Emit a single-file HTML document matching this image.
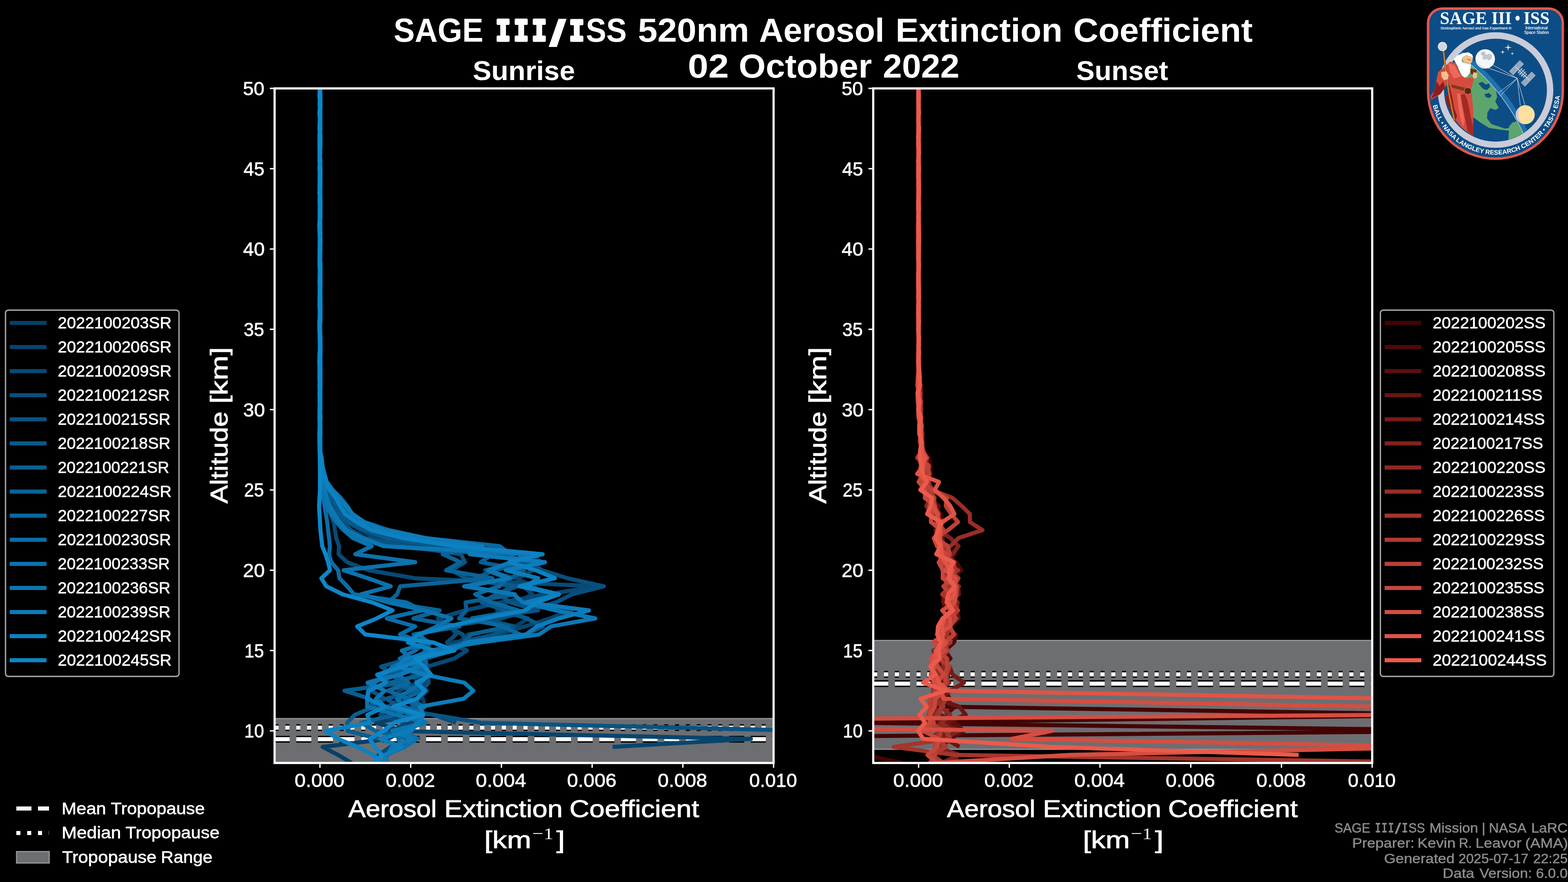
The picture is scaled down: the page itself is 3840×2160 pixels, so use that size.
<!DOCTYPE html>
<html lang="en"><head><meta charset="utf-8"><title>SAGE III/ISS 520nm Aerosol Extinction Coefficient</title>
<style>html,body{margin:0;padding:0;background:#000;overflow:hidden}svg{display:block}text{white-space:pre}</style></head>
<body>
<svg width="3840" height="2160" viewBox="0 0 3840 2160">
<rect width="3840" height="2160" fill="#000"/>
<clipPath id="clip0"><rect x="672.5" y="216.5" width="1222" height="1652"/></clipPath>
<clipPath id="clip1"><rect x="2138.5" y="216.5" width="1222" height="1652"/></clipPath>
<g clip-path="url(#clip0)">
<rect x="652.5" y="1759.74" width="1262" height="148.09" fill="#6d6e72" stroke="#9a9b9d" stroke-width="2.6"/>
<path d="M672.5 1810.29H1894.5" stroke="#000" stroke-width="16.67" stroke-dasharray="37 16" fill="none"/>
<path d="M672.5 1810.29H1894.5" stroke="#fff" stroke-width="10" stroke-dasharray="37 16" fill="none"/>
<path d="M672.5 1781.97H1894.5" stroke="#000" stroke-width="16.67" stroke-dasharray="10 16.5" fill="none"/>
<path d="M672.5 1781.97H1894.5" stroke="#fff" stroke-width="10" stroke-dasharray="10 16.5" fill="none"/>
<g fill="none" stroke-width="10" stroke-linejoin="round" stroke-linecap="butt">
<path d="M782.65 216.5L783.47 236.17L784.31 255.83L784.14 275.5L784.21 295.17L783.41 314.83L784.39 334.5L783.68 354.17L782.47 373.83L783.47 393.5L782.39 413.17L784.75 432.83L784.78 452.5L783.15 472.17L783.08 491.83L784.31 511.5L782.8 531.17L782.73 550.83L782.76 570.5L783.18 590.17L783.93 609.83L784.83 629.5L782.82 649.17L784.81 668.83L783.74 688.5L784.66 708.17L784.44 727.83L782.69 747.5L783.99 767.17L782.59 786.83L782.27 806.5L783.31 826.17L784.32 845.83L783.77 865.5L782.77 885.17L784.5 904.83L784.69 924.5L782.89 944.17L783.45 963.83L783.96 983.5L784.66 1003.17L782.6 1022.83L783.73 1042.5L784.84 1062.17L783.88 1081.83L784.17 1101.5L785.86 1121.17L787.17 1140.83L790.48 1160.5L795.72 1180.17L805.33 1199.83L816.12 1219.5L827.28 1239.17L841.48 1258.83L866.05 1278.5L896.28 1298.17L972.22 1317.83L1063.8 1337.5L1227.72 1357.17L1285.22 1376.83L1187.17 1396.5L1263.5 1416.17L1306.61 1435.83L1331.51 1455.5L1240.44 1475.17L1217.37 1494.83L1293.41 1514.5L1262.69 1534.17L1146 1553.83L1124.95 1573.5L1057.85 1593.17L1041.41 1612.83L1041.96 1632.5L1010.25 1652.17L1041.98 1671.83L1018.39 1691.5L1035.38 1711.17L1041.12 1730.83L1018.75 1750.5L920.78 1770.17L986.69 1789.83L950.23 1809.5L790.26 1829.17L828.03 1848.83L861.35 1868.5" stroke="#064068"/>
<path d="M783.81 216.5L782.78 236.17L784.83 255.83L784.72 275.5L783.5 295.17L784.03 314.83L782.83 334.5L782.85 354.17L783.03 373.83L784.1 393.5L782.82 413.17L784.85 432.83L782.45 452.5L782.77 472.17L782.49 491.83L784.31 511.5L783.24 531.17L783.52 550.83L783.13 570.5L783.96 590.17L783.33 609.83L782.81 629.5L783.4 649.17L783.07 668.83L782.55 688.5L784.45 708.17L784.07 727.83L784.03 747.5L784.61 767.17L783.31 786.83L783.27 806.5L783.39 826.17L783.34 845.83L784.04 865.5L782.28 885.17L783.5 904.83L783.68 924.5L783.18 944.17L782.32 963.83L784.14 983.5L782.28 1003.17L783.76 1022.83L782.67 1042.5L782.35 1062.17L782.74 1081.83L782.43 1101.5L784.94 1121.17L786.44 1140.83L789.07 1160.5L793.24 1180.17L801.12 1199.83L810.49 1219.5L819.83 1239.17L829.1 1258.83L851.48 1278.5L883.14 1298.17L920.35 1317.83L1037.01 1337.5L1299.08 1357.17L1326.06 1376.83L1304.75 1396.5L1268.04 1416.17L1281.95 1435.83L1303.83 1455.5L1266.81 1475.17L1400.38 1494.83L1347.18 1514.5L1285.12 1534.17L1219.78 1553.83L1110.24 1573.5L1094.54 1593.17L1041.14 1612.83L1047.21 1632.5L1012.53 1652.17L1021.92 1671.83L1045.99 1691.5L1026 1711.17L1007.2 1730.83L1033.55 1750.5L1005.77 1770.17L954.67 1789.83L1838.95 1809.5L1500.13 1829.17" stroke="#07456f"/>
<path d="M782.65 216.5L783.9 236.17L782.71 255.83L784.16 275.5L783.88 295.17L783.28 314.83L783.9 334.5L783.77 354.17L782.37 373.83L783.67 393.5L783.91 413.17L783.64 432.83L784.6 452.5L784.22 472.17L783.26 491.83L782.86 511.5L782.6 531.17L784.42 550.83L784.1 570.5L783.88 590.17L783.44 609.83L783.59 629.5L782.85 649.17L783.67 668.83L782.65 688.5L783.91 708.17L783.94 727.83L784.04 747.5L782.91 767.17L782.5 786.83L783.15 806.5L784.09 826.17L783.62 845.83L784.25 865.5L783.41 885.17L783.32 904.83L784.68 924.5L782.7 944.17L782.81 963.83L783.83 983.5L783.94 1003.17L783.41 1022.83L783.75 1042.5L783.43 1062.17L784.04 1081.83L784.63 1101.5L783.59 1121.17L784.7 1140.83L785.81 1160.5L788.03 1180.17L792.48 1199.83L796.92 1219.5L803.59 1239.17L810.25 1258.83L816.92 1278.5L820.25 1298.17L823.58 1317.83L830.25 1337.5L829.14 1357.17L850.25 1376.83L902.46 1396.5L1016.88 1416.17L1466.8 1435.83L1339.05 1455.5L1227.95 1475.17L1139.08 1494.83L1072.43 1514.5L1105.75 1534.17L1116.86 1553.83L1094.65 1573.5L1143.53 1593.17L1112.42 1612.83L1046.8 1632.5L1049 1652.17L1024.91 1671.83L975.17 1691.5L982.69 1711.17L951 1730.83L931.18 1750.5L988.53 1770.17L979.85 1789.83L1023.77 1809.5L956.39 1829.17L926.96 1848.83L923.34 1868.5" stroke="#074a76"/>
<path d="M784.87 216.5L783.47 236.17L784.17 255.83L784.22 275.5L782.83 295.17L782.47 314.83L783.86 334.5L782.58 354.17L783.28 373.83L784.63 393.5L784.58 413.17L782.57 432.83L782.48 452.5L782.85 472.17L784.47 491.83L782.32 511.5L782.86 531.17L782.54 550.83L782.6 570.5L783.65 590.17L782.75 609.83L783.35 629.5L784.21 649.17L784.19 668.83L783.36 688.5L784.35 708.17L783.78 727.83L784.46 747.5L782.92 767.17L783.24 786.83L783.81 806.5L784.78 826.17L783.91 845.83L783.52 865.5L782.93 885.17L783.01 904.83L782.83 924.5L784.89 944.17L784.62 963.83L784.64 983.5L783.67 1003.17L784.15 1022.83L783.05 1042.5L783.54 1062.17L782.65 1081.83L783.38 1101.5L786.82 1121.17L788.56 1140.83L792.01 1160.5L797.66 1180.17L808.9 1199.83L823.55 1219.5L838.75 1239.17L849.2 1258.83L877.11 1278.5L921.19 1298.17L988.65 1317.83L1150.19 1337.5L1227.95 1357.17L1294.61 1376.83L1327.94 1396.5L1390.15 1416.17L1479.02 1435.83L1401.26 1455.5L1361.26 1475.17L1294.61 1494.83L1227.95 1514.5L1095.84 1534.17L1133.3 1553.83L1142.13 1573.5L1096.7 1593.17L1036.29 1612.83L1013.11 1632.5L1047.68 1652.17L1049.79 1671.83L1032.32 1691.5L1024.08 1711.17L946.23 1730.83L1061.32 1750.5L1116.86 1770.17" stroke="#084f7d"/>
<path d="M784.82 216.5L784.58 236.17L784.21 255.83L782.86 275.5L783.14 295.17L784.16 314.83L784.41 334.5L782.3 354.17L782.7 373.83L784.65 393.5L782.57 413.17L784.01 432.83L783.14 452.5L783.98 472.17L784.56 491.83L783.81 511.5L783.3 531.17L783.12 550.83L783.91 570.5L783.93 590.17L783.35 609.83L783.5 629.5L783.69 649.17L782.95 668.83L782.74 688.5L783.77 708.17L782.53 727.83L783.85 747.5L784.4 767.17L784.47 786.83L782.93 806.5L783.36 826.17L784.72 845.83L783.19 865.5L784.9 885.17L782.79 904.83L784.5 924.5L782.37 944.17L784.04 963.83L784.41 983.5L783.72 1003.17L783.94 1022.83L784.69 1042.5L784.91 1062.17L782.74 1081.83L783.65 1101.5L784.42 1121.17L785.33 1140.83L787.9 1160.5L792.14 1180.17L798.43 1199.83L804.36 1219.5L811.43 1239.17L823.36 1258.83L840.41 1278.5L858.97 1298.17L895.67 1317.83L993.18 1337.5L1128.8 1357.17L1138.63 1376.83L1105.67 1396.5L1141.91 1416.17L1251.91 1435.83L1221.76 1455.5L1250.15 1475.17L1317.53 1494.83L1178.87 1514.5L1259.06 1534.17L1209.1 1553.83L1134.6 1573.5L1111.43 1593.17L1003.34 1612.83L933.42 1632.5L962.62 1652.17L899.93 1671.83L909.37 1691.5L942.27 1711.17L902.58 1730.83L1061.32 1750.5L1177.96 1770.17L1983.37 1789.83" stroke="#085483"/>
<path d="M784.6 216.5L783.19 236.17L784.37 255.83L784.79 275.5L783.09 295.17L784.31 314.83L783.15 334.5L782.69 354.17L783.19 373.83L784.26 393.5L782.65 413.17L784.02 432.83L783.19 452.5L782.71 472.17L783.4 491.83L783.29 511.5L783.49 531.17L784.61 550.83L784.71 570.5L782.86 590.17L784.89 609.83L783.89 629.5L784.82 649.17L784.44 668.83L783.66 688.5L782.93 708.17L784.74 727.83L784.92 747.5L783.92 767.17L782.57 786.83L784.45 806.5L784.3 826.17L784.6 845.83L784.86 865.5L784.86 885.17L784.22 904.83L783.3 924.5L783.68 944.17L783.6 963.83L784.29 983.5L783.93 1003.17L784.46 1022.83L783.63 1042.5L783.83 1062.17L784.83 1081.83L784.37 1101.5L785.32 1121.17L787.26 1140.83L790.11 1160.5L794.42 1180.17L803.74 1199.83L813.75 1219.5L824.12 1239.17L834.82 1258.83L854.31 1278.5L893.94 1298.17L947.65 1317.83L1065.16 1337.5L1226.45 1357.17L1287.54 1376.83L1212.13 1396.5L1162.08 1416.17L1266.24 1435.83L1215.81 1455.5L1179.15 1475.17L1236.13 1494.83L1288.82 1514.5L1329.68 1534.17L1286.98 1553.83L1139.43 1573.5L1103.45 1593.17L999.61 1612.83L989.14 1632.5L928.29 1652.17L952.89 1671.83L1014.98 1691.5L946.38 1711.17L976.48 1730.83L1005.64 1750.5L963.07 1770.17" stroke="#09598a"/>
<path d="M784.15 216.5L784.66 236.17L782.3 255.83L784.77 275.5L784.45 295.17L782.41 314.83L784.41 334.5L784.4 354.17L782.76 373.83L784.85 393.5L783.23 413.17L783.46 432.83L784 452.5L784.1 472.17L784.25 491.83L783 511.5L783.55 531.17L782.62 550.83L782.99 570.5L783.57 590.17L782.46 609.83L783.19 629.5L784.43 649.17L782.73 668.83L783.41 688.5L782.36 708.17L784.22 727.83L782.52 747.5L782.74 767.17L784.24 786.83L783.44 806.5L783.73 826.17L783.88 845.83L783.58 865.5L783.39 885.17L782.67 904.83L782.64 924.5L782.8 944.17L782.91 963.83L783.11 983.5L784.64 1003.17L782.83 1022.83L782.61 1042.5L782.97 1062.17L782.61 1081.83L784.47 1101.5L783.42 1121.17L784.76 1140.83L786.55 1160.5L790.47 1180.17L794.14 1199.83L799 1219.5L808.21 1239.17L819.65 1258.83L831.08 1278.5L842.98 1298.17L885.73 1317.83L947.68 1337.5L1207.32 1357.17L1177.32 1376.83L1283.57 1396.5L1251.31 1416.17L1142.53 1435.83L1261.75 1455.5L1140.02 1475.17L1142.46 1494.83L1124.02 1514.5L1245.79 1534.17L1153.03 1553.83L1136.06 1573.5L1075.29 1593.17L1037.52 1612.83L1019.13 1632.5L956.82 1652.17L990.42 1671.83L843.58 1691.5L906.15 1711.17L915.95 1730.83L869.13 1750.5L850.25 1770.17L851.66 1789.83L927.31 1809.5" stroke="#095e91"/>
<path d="M782.91 216.5L783.81 236.17L784.85 255.83L784.01 275.5L783.54 295.17L783.08 314.83L782.63 334.5L784.92 354.17L784.27 373.83L782.92 393.5L783.84 413.17L784.15 432.83L784.68 452.5L783.01 472.17L783.09 491.83L782.76 511.5L783.83 531.17L784.72 550.83L784.22 570.5L782.63 590.17L783.25 609.83L782.46 629.5L782.69 649.17L783.57 668.83L782.67 688.5L782.98 708.17L782.91 727.83L783.38 747.5L784.54 767.17L782.89 786.83L783.89 806.5L783.32 826.17L783.04 845.83L783.05 865.5L784.33 885.17L784.5 904.83L784.21 924.5L784.63 944.17L784.2 963.83L783.05 983.5L782.88 1003.17L783.77 1022.83L783.88 1042.5L784.35 1062.17L784.67 1081.83L784.38 1101.5L787.36 1121.17L789.02 1140.83L792.89 1160.5L799.55 1180.17L811.39 1199.83L826.68 1219.5L841.01 1239.17L857.11 1258.83L879.52 1278.5L934.1 1298.17L1006.84 1317.83L1160.88 1337.5L1084.16 1357.17L1127.97 1376.83L1092.42 1396.5L1205.74 1416.17L980.22 1435.83L972.45 1455.5L950.23 1475.17L1076.87 1494.83L1012.44 1514.5L1125.34 1534.17L1012.82 1553.83L1054.29 1573.5L1040.31 1593.17L1034.21 1612.83L1015.84 1632.5L1034.11 1652.17L956.94 1671.83L1032.82 1691.5L991.32 1711.17L1021.72 1730.83L967.01 1750.5L884.37 1770.17L919.58 1789.83L1000.28 1809.5L974.14 1829.17" stroke="#0a6398"/>
<path d="M782.61 216.5L784.43 236.17L784.61 255.83L783.28 275.5L783 295.17L782.78 314.83L782.47 334.5L782.83 354.17L782.8 373.83L784.53 393.5L782.77 413.17L782.76 432.83L784.73 452.5L784.7 472.17L782.53 491.83L783.12 511.5L784.89 531.17L783.3 550.83L783.93 570.5L784.1 590.17L783.98 609.83L782.41 629.5L784.19 649.17L784.43 668.83L783.45 688.5L783.18 708.17L784.18 727.83L784.9 747.5L784.77 767.17L782.8 786.83L784.28 806.5L783.56 826.17L784.89 845.83L784.85 865.5L783.55 885.17L784.66 904.83L784.62 924.5L782.56 944.17L783.34 963.83L784.78 983.5L782.88 1003.17L783.43 1022.83L783.93 1042.5L783.2 1062.17L784.35 1081.83L782.74 1101.5L786.92 1121.17L789.15 1140.83L794.7 1160.5L800.25 1180.17L814.7 1199.83L834.69 1219.5L850.25 1239.17L862.47 1258.83L892.46 1278.5L952.45 1298.17L1042.43 1317.83L1223.51 1337.5L1250.17 1357.17L1265.98 1376.83L1193.11 1396.5L1241.84 1416.17L1222.94 1435.83L1163.77 1455.5L1203.76 1475.17L1269.37 1494.83L1155.56 1514.5L1230.99 1534.17L1273.95 1553.83L1137.33 1573.5L1109.29 1593.17L1041.52 1612.83L1043.25 1632.5L974.38 1652.17L1000.87 1671.83L950.19 1691.5L997.69 1711.17L1039.69 1730.83L1007.29 1750.5" stroke="#0b689f"/>
<path d="M783 216.5L783.48 236.17L783.72 255.83L782.53 275.5L783.6 295.17L784.81 314.83L783.76 334.5L783.64 354.17L784.36 373.83L783.46 393.5L782.99 413.17L784.49 432.83L782.7 452.5L784.63 472.17L784.61 491.83L783.72 511.5L783.63 531.17L782.43 550.83L782.72 570.5L784.32 590.17L784.2 609.83L783.92 629.5L782.62 649.17L784.19 668.83L784.9 688.5L784.58 708.17L784.03 727.83L783.45 747.5L783.39 767.17L782.67 786.83L782.37 806.5L784.84 826.17L783.32 845.83L783.3 865.5L783.55 885.17L784.88 904.83L784.7 924.5L784.1 944.17L784.35 963.83L783.66 983.5L783.99 1003.17L784.38 1022.83L784.03 1042.5L782.39 1062.17L783.5 1081.83L783.82 1101.5L783.59 1121.17L783.59 1140.83L784.7 1160.5L785.81 1180.17L788.03 1199.83L791.37 1219.5L794.7 1239.17L798.03 1258.83L801.37 1278.5L803.59 1298.17L805.81 1317.83L808.03 1337.5L805.81 1357.17L811.36 1376.83L828.03 1396.5L831.36 1416.17L850.25 1435.83L866.91 1455.5L994.66 1475.17L1033.55 1494.83L946.89 1514.5L1016.88 1534.17L979.24 1553.83L1039.58 1573.5L1017.01 1593.17L979.03 1612.83L1020.81 1632.5L1046.07 1652.17L1032.33 1671.83L1003.46 1691.5L972.47 1711.17L991.22 1730.83L1034.89 1750.5L1022.8 1770.17L1007.65 1789.83L975.46 1809.5L982.7 1829.17L947.85 1848.83L938.87 1868.5" stroke="#0b6da6"/>
<path d="M784.75 216.5L783.29 236.17L784.45 255.83L782.92 275.5L783.54 295.17L782.99 314.83L783.7 334.5L782.46 354.17L783.37 373.83L783.1 393.5L782.36 413.17L784.43 432.83L784.69 452.5L782.66 472.17L783.94 491.83L783.67 511.5L783.39 531.17L783.83 550.83L784.02 570.5L783 590.17L783.22 609.83L783.61 629.5L784.91 649.17L784.74 668.83L784.33 688.5L783.48 708.17L784.68 727.83L784.87 747.5L784.61 767.17L782.78 786.83L783.35 806.5L782.86 826.17L783.46 845.83L784.54 865.5L783.58 885.17L783.14 904.83L782.7 924.5L782.63 944.17L784.45 963.83L784.8 983.5L784.63 1003.17L782.27 1022.83L782.97 1042.5L782.63 1062.17L783.49 1081.83L782.8 1101.5L783.59 1121.17L784.7 1140.83L785.81 1160.5L788.03 1180.17L791.37 1199.83L794.7 1219.5L799.14 1239.17L810.25 1258.83L823.58 1278.5L841.36 1298.17L864.69 1317.83L910.23 1337.5L870.24 1357.17L1016.88 1376.83L841.36 1396.5L901.35 1416.17L956.89 1435.83L883.57 1455.5L950.23 1475.17L1039.1 1494.83L1105.75 1514.5L1069.74 1534.17L1026.04 1553.83L1048.04 1573.5L984.01 1593.17L1007 1612.83L962.22 1632.5L942.22 1652.17L917.73 1671.83L901.7 1691.5L898.95 1711.17L899.28 1730.83L970.22 1750.5L1042.99 1770.17L979.33 1789.83L1021.81 1809.5L992.12 1829.17L943.45 1848.83L947.98 1868.5" stroke="#0c72ad"/>
<path d="M784.46 216.5L782.83 236.17L784.77 255.83L783.57 275.5L783.32 295.17L783.9 314.83L782.71 334.5L782.77 354.17L783.38 373.83L782.87 393.5L784.05 413.17L783.37 432.83L783.28 452.5L783 472.17L782.85 491.83L784.17 511.5L784.66 531.17L783.19 550.83L784.4 570.5L783.09 590.17L784.29 609.83L782.89 629.5L783.77 649.17L783.34 668.83L784.58 688.5L784.29 708.17L782.55 727.83L782.52 747.5L783.48 767.17L782.83 786.83L782.89 806.5L784.79 826.17L784.77 845.83L782.3 865.5L782.32 885.17L783.93 904.83L784.78 924.5L784.63 944.17L784.11 963.83L784.23 983.5L783.55 1003.17L783.56 1022.83L784.54 1042.5L782.54 1062.17L784.08 1081.83L784.18 1101.5L783.73 1121.17L785 1140.83L787.3 1160.5L791.16 1180.17L795.53 1199.83L800.33 1219.5L807.09 1239.17L818.51 1258.83L831.33 1278.5L848.12 1298.17L887.43 1317.83L939.5 1337.5L1288.7 1357.17L1250.61 1376.83L1197.56 1396.5L1247.79 1416.17L1136.57 1435.83L1258.07 1455.5L1279.97 1475.17L1361.26 1494.83L1457.91 1514.5L1349.04 1534.17L1320.16 1553.83L1174.63 1573.5L1053.54 1593.17L1003.77 1612.83L1024.98 1632.5L980.58 1652.17L900.71 1671.83L942.27 1691.5L920.87 1711.17L943.23 1730.83L1015.92 1750.5L1041.29 1770.17L960.73 1789.83L1010.78 1809.5L959.76 1829.17L948.27 1848.83" stroke="#0c77b3"/>
<path d="M783.54 216.5L784.03 236.17L783.91 255.83L784.12 275.5L784.66 295.17L784.26 314.83L782.69 334.5L782.85 354.17L783.47 373.83L783.3 393.5L784.83 413.17L784.2 432.83L783.51 452.5L783.2 472.17L782.86 491.83L783.86 511.5L784.72 531.17L782.7 550.83L783.46 570.5L783.18 590.17L783.88 609.83L782.94 629.5L782.43 649.17L784.06 668.83L783.08 688.5L783.98 708.17L784.68 727.83L783.81 747.5L784.69 767.17L784.4 786.83L782.43 806.5L782.91 826.17L784.02 845.83L783.53 865.5L782.27 885.17L784.45 904.83L783.99 924.5L783.42 944.17L783.65 963.83L782.71 983.5L783.72 1003.17L782.64 1022.83L784.03 1042.5L784.77 1062.17L782.83 1081.83L782.97 1101.5L787.73 1121.17L790.01 1140.83L793.97 1160.5L799.93 1180.17L813.85 1199.83L830.72 1219.5L846.85 1239.17L863.46 1258.83L890.91 1278.5L939.07 1298.17L1043.12 1317.83L1180.69 1337.5L1150.54 1357.17L1334.6 1376.83L1238.87 1396.5L1318.1 1416.17L1288.75 1435.83L1367.84 1455.5L1287.7 1475.17L1442.36 1494.83L1368.34 1514.5L1315.11 1534.17L1288.12 1553.83L1145.05 1573.5L1101.25 1593.17L991.96 1612.83L974.11 1632.5L1039.1 1652.17L1136.86 1671.83L1159.08 1691.5L1135.75 1711.17L1027.99 1730.83L1037.17 1750.5L1024.49 1770.17L1004.92 1789.83L931.26 1809.5L983.86 1829.17L942.39 1848.83L942.09 1868.5" stroke="#0d7cba"/>
<path d="M782.34 216.5L784.57 236.17L784.18 255.83L782.31 275.5L783.72 295.17L782.89 314.83L784.61 334.5L784.53 354.17L783.06 373.83L783.85 393.5L783.58 413.17L783.01 432.83L783.41 452.5L783.31 472.17L783.5 491.83L784.8 511.5L784.21 531.17L782.36 550.83L783.2 570.5L784.84 590.17L784.29 609.83L783.87 629.5L783.98 649.17L784.08 668.83L782.7 688.5L783.34 708.17L783 727.83L782.77 747.5L784.1 767.17L782.35 786.83L782.73 806.5L784.15 826.17L784.64 845.83L783.07 865.5L784.53 885.17L784.48 904.83L782.67 924.5L784.7 944.17L782.71 963.83L783.52 983.5L782.48 1003.17L782.51 1022.83L784.03 1042.5L784.5 1062.17L782.56 1081.83L783.13 1101.5L786.42 1121.17L788.28 1140.83L792 1160.5L796.73 1180.17L806.97 1199.83L822.36 1219.5L832.97 1239.17L845.31 1258.83L872.67 1278.5L909.41 1298.17L988.26 1317.83L1113.61 1337.5L1329.05 1357.17L1247.14 1376.83L1312.09 1396.5L1358.95 1416.17L1271.82 1435.83L1369.04 1455.5L1315.03 1475.17L1286.13 1494.83L1185.52 1514.5L1096.81 1534.17L1024.27 1553.83L998.62 1573.5L1064.25 1593.17L1036 1612.83L986.65 1632.5L923.5 1652.17L945.32 1671.83L903.31 1691.5L899.41 1711.17L943.56 1730.83L899.79 1750.5L905.79 1770.17L796.92 1789.83L828.03 1809.5L875.29 1829.17L914.21 1848.83L934.03 1868.5" stroke="#0d81c1"/>
<path d="M782.9 216.5L782.52 236.17L784.03 255.83L782.91 275.5L783.92 295.17L782.67 314.83L784.87 334.5L784.06 354.17L783.04 373.83L782.43 393.5L784.49 413.17L784.65 432.83L783.16 452.5L782.54 472.17L784.86 491.83L784.64 511.5L783.49 531.17L782.55 550.83L784.26 570.5L784.85 590.17L783.06 609.83L783.24 629.5L784.57 649.17L784.26 668.83L784.7 688.5L783.92 708.17L782.87 727.83L784.79 747.5L784.42 767.17L784.56 786.83L783.15 806.5L783.07 826.17L784.86 845.83L784.72 865.5L782.52 885.17L782.47 904.83L782.61 924.5L784.02 944.17L782.93 963.83L782.7 983.5L783.64 1003.17L784.83 1022.83L783.54 1042.5L782.48 1062.17L782.63 1081.83L783.06 1101.5L783.59 1121.17L783.59 1140.83L783.59 1160.5L783.59 1180.17L783.59 1199.83L782.48 1219.5L781.37 1239.17L782.48 1258.83L783.59 1278.5L784.7 1298.17L786.92 1317.83L789.15 1337.5L796.92 1357.17L803.59 1376.83L808.03 1396.5L786.92 1416.17L799.14 1435.83L839.14 1455.5L911.35 1475.17L961.34 1494.83L922.45 1514.5L874.69 1534.17L894.68 1553.83L1061.32 1573.5L1112.42 1593.17L1016.88 1612.83L1039.1 1632.5L1055.93 1652.17L1019.8 1671.83L1041.04 1691.5L1020.67 1711.17L963.5 1730.83L1034.74 1750.5L964.77 1770.17L939.51 1789.83L905.51 1809.5L918.03 1829.17L935.63 1848.83L914.85 1868.5" stroke="#0e86c8"/>
</g>
</g>
<rect x="672.5" y="216.5" width="1222" height="1652" fill="none" stroke="#fff" stroke-width="5.33"/>
<path d="M783.59 1868.5v11.67M1005.77 1868.5v11.67M1227.95 1868.5v11.67M1450.14 1868.5v11.67M1672.32 1868.5v11.67M1894.5 1868.5v11.67M672.5 1789.83h-11.67M672.5 1593.17h-11.67M672.5 1396.5h-11.67M672.5 1199.83h-11.67M672.5 1003.17h-11.67M672.5 806.5h-11.67M672.5 609.83h-11.67M672.5 413.17h-11.67M672.5 216.5h-11.67" stroke="#fff" stroke-width="3.3" fill="none"/>
<text transform="translate(721.54 1926.65) scale(1.0722 1)" font-family='"Liberation Sans", sans-serif' font-size="45.49" fill="#fff" stroke="#fff" stroke-width="0.91" stroke-linejoin="round" vector-effect="non-scaling-stroke">0.000</text>
<text transform="translate(944.6 1926.65) scale(1.0611 1)" font-family='"Liberation Sans", sans-serif' font-size="45.49" fill="#fff" stroke="#fff" stroke-width="0.91" stroke-linejoin="round" vector-effect="non-scaling-stroke">0.002</text>
<text transform="translate(1164.94 1926.65) scale(1.0849 1)" font-family='"Liberation Sans", sans-serif' font-size="45.49" fill="#fff" stroke="#fff" stroke-width="0.91" stroke-linejoin="round" vector-effect="non-scaling-stroke">0.004</text>
<text transform="translate(1388.66 1926.65) scale(1.0637 1)" font-family='"Liberation Sans", sans-serif' font-size="45.49" fill="#fff" stroke="#fff" stroke-width="0.91" stroke-linejoin="round" vector-effect="non-scaling-stroke">0.006</text>
<text transform="translate(1610.84 1926.65) scale(1.0637 1)" font-family='"Liberation Sans", sans-serif' font-size="45.49" fill="#fff" stroke="#fff" stroke-width="0.91" stroke-linejoin="round" vector-effect="non-scaling-stroke">0.008</text>
<text transform="translate(1835.09 1926.65) scale(1.0259 1)" font-family='"Liberation Sans", sans-serif' font-size="45.49" fill="#fff" stroke="#fff" stroke-width="0.91" stroke-linejoin="round" vector-effect="non-scaling-stroke">0.010</text>
<text transform="translate(598.22 1806.38) scale(0.9571 1)" font-family='"Liberation Sans", sans-serif' font-size="45.49" fill="#fff" stroke="#fff" stroke-width="0.91" stroke-linejoin="round" vector-effect="non-scaling-stroke">10</text>
<text transform="translate(598.67 1609.71) scale(0.9426 1)" font-family='"Liberation Sans", sans-serif' font-size="45.49" fill="#fff" stroke="#fff" stroke-width="0.91" stroke-linejoin="round" vector-effect="non-scaling-stroke">15</text>
<text transform="translate(595.06 1413.05) scale(1.0546 1)" font-family='"Liberation Sans", sans-serif' font-size="45.49" fill="#fff" stroke="#fff" stroke-width="0.91" stroke-linejoin="round" vector-effect="non-scaling-stroke">20</text>
<text transform="translate(597.77 1216.38) scale(0.9610 1)" font-family='"Liberation Sans", sans-serif' font-size="45.49" fill="#fff" stroke="#fff" stroke-width="0.91" stroke-linejoin="round" vector-effect="non-scaling-stroke">25</text>
<text transform="translate(595.54 1019.71) scale(1.0550 1)" font-family='"Liberation Sans", sans-serif' font-size="45.49" fill="#fff" stroke="#fff" stroke-width="0.91" stroke-linejoin="round" vector-effect="non-scaling-stroke">30</text>
<text transform="translate(596.65 823.05) scale(0.9944 1)" font-family='"Liberation Sans", sans-serif' font-size="45.49" fill="#fff" stroke="#fff" stroke-width="0.91" stroke-linejoin="round" vector-effect="non-scaling-stroke">35</text>
<text transform="translate(595.34 626.38) scale(1.0487 1)" font-family='"Liberation Sans", sans-serif' font-size="45.49" fill="#fff" stroke="#fff" stroke-width="0.91" stroke-linejoin="round" vector-effect="non-scaling-stroke">40</text>
<text transform="translate(596.38 429.71) scale(1.0101 1)" font-family='"Liberation Sans", sans-serif' font-size="45.49" fill="#fff" stroke="#fff" stroke-width="0.91" stroke-linejoin="round" vector-effect="non-scaling-stroke">45</text>
<text transform="translate(595.07 233.05) scale(1.0380 1)" font-family='"Liberation Sans", sans-serif' font-size="45.49" fill="#fff" stroke="#fff" stroke-width="0.91" stroke-linejoin="round" vector-effect="non-scaling-stroke">50</text>
<text transform="translate(853.08 2000.81) scale(1.0744 1)" font-family='"Liberation Sans", sans-serif' font-size="59.43" fill="#fff" stroke="#fff" stroke-width="1.19" stroke-linejoin="round" vector-effect="non-scaling-stroke">Aerosol</text> <text transform="translate(1088.02 2000.81) scale(1.1257 1)" font-family='"Liberation Sans", sans-serif' font-size="59.43" fill="#fff" stroke="#fff" stroke-width="1.19" stroke-linejoin="round" vector-effect="non-scaling-stroke">Extinction</text> <text transform="translate(1394.62 2000.81) scale(1.1358 1)" font-family='"Liberation Sans", sans-serif' font-size="59.43" fill="#fff" stroke="#fff" stroke-width="1.19" stroke-linejoin="round" vector-effect="non-scaling-stroke">Coefficient</text>
<text transform="translate(1185.99 2076.71) scale(1.2038 1)" font-family='"Liberation Sans", sans-serif' font-size="59.43" fill="#fff" stroke="#fff" stroke-width="1.19" stroke-linejoin="round" vector-effect="non-scaling-stroke">[km</text><text transform="translate(1303.14 2054.7) scale(1.2026 1)" font-family='"Liberation Serif", serif' font-size="40.91" fill="#fff">−1</text><text transform="translate(1362.59 2076.71) scale(1.2797 1)" font-family='"Liberation Sans", sans-serif' font-size="59.43" fill="#fff" stroke="#fff" stroke-width="1.19" stroke-linejoin="round" vector-effect="non-scaling-stroke">]</text>
<text transform="translate(557.31 1233.33) rotate(-90) scale(1.1385 1)" font-family='"Liberation Sans", sans-serif' font-size="59.43" fill="#fff" stroke="#fff" stroke-width="1.19" stroke-linejoin="round" vector-effect="non-scaling-stroke">Altitude</text> <text transform="translate(557.31 988.53) rotate(-90) scale(1.2322 1)" font-family='"Liberation Sans", sans-serif' font-size="59.43" fill="#fff" stroke="#fff" stroke-width="1.19" stroke-linejoin="round" vector-effect="non-scaling-stroke">[km]</text>
<text transform="translate(1157.65 195.7) scale(1.0131 1)" font-family='"Liberation Sans", sans-serif' font-size="67.46" font-weight="bold" fill="#fff">Sunrise</text>
<g clip-path="url(#clip1)">
<rect x="2118.5" y="1568.39" width="1262" height="266.68" fill="#6d6e72" stroke="#9a9b9d" stroke-width="2.6"/>
<path d="M2138.5 1674.19H3360.5" stroke="#000" stroke-width="16.67" stroke-dasharray="37 16" fill="none"/>
<path d="M2138.5 1674.19H3360.5" stroke="#fff" stroke-width="10" stroke-dasharray="37 16" fill="none"/>
<path d="M2138.5 1651.38H3360.5" stroke="#000" stroke-width="16.67" stroke-dasharray="10 16.5" fill="none"/>
<path d="M2138.5 1651.38H3360.5" stroke="#fff" stroke-width="10" stroke-dasharray="10 16.5" fill="none"/>
<g fill="none" stroke-width="10" stroke-linejoin="round" stroke-linecap="butt">
<path d="M2250.79 216.5L2249.8 236.17L2248.94 255.83L2250.27 275.5L2249.26 295.17L2250.39 314.83L2249.16 334.5L2249.78 354.17L2250.37 373.83L2248.31 393.5L2249.14 413.17L2249.32 432.83L2249.04 452.5L2250.71 472.17L2248.44 491.83L2249.45 511.5L2249.08 531.17L2248.61 550.83L2248.57 570.5L2250.63 590.17L2249.24 609.83L2250.71 629.5L2249.25 649.17L2249.15 668.83L2248.74 688.5L2248.47 708.17L2248.28 727.83L2250.3 747.5L2250.63 767.17L2250.77 786.83L2250.18 806.5L2250.61 826.17L2249.86 845.83L2249.53 865.5L2250.78 885.17L2250.29 904.83L2248.54 924.5L2253.47 944.17L2256.03 963.83L2255.79 983.5L2254.83 1003.17L2257.11 1022.83L2254.94 1042.5L2258.5 1062.17L2258.94 1081.83L2256.16 1101.5L2274.54 1121.17L2278.21 1140.83L2279.1 1160.5L2267.48 1180.17L2285.6 1199.83L2279 1219.5L2275.85 1239.17L2305.82 1258.83L2305.8 1278.5L2298.37 1298.17L2309.85 1317.83L2307.3 1337.5L2339.2 1357.17L2321.64 1376.83L2351.76 1396.5L2331.2 1416.17L2336.59 1435.83L2322.3 1455.5L2311.41 1475.17L2310.53 1494.83L2316.42 1514.5L2321.73 1534.17L2303.02 1553.83L2315.4 1573.5L2299.38 1593.17L2300.65 1612.83L2305.89 1632.5L2300.26 1652.17L2306.94 1671.83L2310.53 1691.5L2327.35 1711.17L2319.58 1730.83L3604.9 1750.5L2105.17 1770.17L3704.88 1789.83L1283.1 1809.5L1805.23 1829.17L2118.5 1848.83L2209.6 1868.5" stroke="#440303"/>
<path d="M2249.93 216.5L2248.9 236.17L2250.41 255.83L2249.15 275.5L2249.23 295.17L2250.17 314.83L2249.2 334.5L2250.78 354.17L2249.48 373.83L2249.25 393.5L2248.31 413.17L2250.28 432.83L2248.83 452.5L2249.48 472.17L2250.06 491.83L2249.5 511.5L2250.8 531.17L2249.31 550.83L2249.21 570.5L2248.53 590.17L2248.33 609.83L2248.57 629.5L2249.78 649.17L2248.57 668.83L2249.59 688.5L2248.66 708.17L2250.38 727.83L2248.35 747.5L2250.33 767.17L2250.75 786.83L2250.78 806.5L2249.5 826.17L2250.42 845.83L2248.71 865.5L2250.82 885.17L2251.42 904.83L2252.16 924.5L2255.55 944.17L2253.81 963.83L2256.68 983.5L2253.33 1003.17L2252.19 1022.83L2253.93 1042.5L2259.2 1062.17L2259.93 1081.83L2257.77 1101.5L2267.3 1121.17L2278.04 1140.83L2264.69 1160.5L2265.66 1180.17L2289.72 1199.83L2277.48 1219.5L2299.09 1239.17L2285.27 1258.83L2311.29 1278.5L2290.13 1298.17L2304.81 1317.83L2312.82 1337.5L2300.33 1357.17L2341.27 1376.83L2354.15 1396.5L2329 1416.17L2339.91 1435.83L2320.22 1455.5L2321.52 1475.17L2337.1 1494.83L2329.65 1514.5L2306.86 1534.17L2341.92 1553.83L2336.35 1573.5L2313.99 1593.17L2327.88 1612.83L2301.71 1632.5L2304.83 1652.17L2312.89 1671.83L2286.25 1691.5L2283.26 1711.17L2338.46 1730.83L2316.25 1750.5" stroke="#500908"/>
<path d="M2248.71 216.5L2249.2 236.17L2250.41 255.83L2250.12 275.5L2248.71 295.17L2250.62 314.83L2250.55 334.5L2248.37 354.17L2249.98 373.83L2249.27 393.5L2248.46 413.17L2249.11 432.83L2249.98 452.5L2248.55 472.17L2249.12 491.83L2250.09 511.5L2248.88 531.17L2250.59 550.83L2249.78 570.5L2249.94 590.17L2248.36 609.83L2248.44 629.5L2249.89 649.17L2248.72 668.83L2249.66 688.5L2250.65 708.17L2249.84 727.83L2249.44 747.5L2248.53 767.17L2248.59 786.83L2248.92 806.5L2250.8 826.17L2250.27 845.83L2248.71 865.5L2248.39 885.17L2251.4 904.83L2253.81 924.5L2252.15 944.17L2250.98 963.83L2253.28 983.5L2256.24 1003.17L2252.83 1022.83L2257.27 1042.5L2256.24 1062.17L2257.48 1081.83L2260.97 1101.5L2246.53 1121.17L2259.04 1140.83L2255.86 1160.5L2261.26 1180.17L2284.66 1199.83L2266.13 1219.5L2298.32 1239.17L2286.59 1258.83L2299.36 1278.5L2301.62 1298.17L2296.11 1317.83L2305.67 1337.5L2305.12 1357.17L2318.22 1376.83L2311.07 1396.5L2334.67 1416.17L2318.2 1435.83L2337.17 1455.5L2330.62 1475.17L2343.1 1494.83L2347.78 1514.5L2314.92 1534.17L2324.5 1553.83L2325.5 1573.5L2298.66 1593.17L2311.75 1612.83L2317.86 1632.5L2322.35 1652.17L2316.97 1671.83L2303.45 1691.5L2301.8 1711.17L2293.78 1730.83L2302.59 1750.5L2338.46 1770.17L2360.68 1789.83L2327.35 1809.5" stroke="#5c0f0d"/>
<path d="M2249.2 216.5L2248.77 236.17L2249.09 255.83L2250.64 275.5L2248.31 295.17L2250.36 314.83L2250.12 334.5L2248.34 354.17L2248.35 373.83L2249.74 393.5L2250.65 413.17L2249.38 432.83L2250.2 452.5L2250.48 472.17L2250.9 491.83L2249.97 511.5L2249.25 531.17L2250.26 550.83L2249.85 570.5L2249.52 590.17L2250.48 609.83L2249.38 629.5L2249.98 649.17L2250.16 668.83L2250.6 688.5L2248.62 708.17L2250.46 727.83L2250.69 747.5L2248.46 767.17L2248.85 786.83L2249.67 806.5L2249.41 826.17L2250.64 845.83L2248.43 865.5L2248.3 885.17L2251.09 904.83L2252 924.5L2250.77 944.17L2250.1 963.83L2252.26 983.5L2255.23 1003.17L2255.07 1022.83L2254.25 1042.5L2252.86 1062.17L2255.06 1081.83L2256.78 1101.5L2266.44 1121.17L2272.53 1140.83L2270.77 1160.5L2275.18 1180.17L2281.07 1199.83L2277.88 1219.5L2272.25 1239.17L2299.66 1258.83L2292.35 1278.5L2309.27 1298.17L2307.31 1317.83L2311.55 1337.5L2315.17 1357.17L2309.74 1376.83L2341.64 1396.5L2310.98 1416.17L2329.72 1435.83L2311.02 1455.5L2310.3 1475.17L2331.61 1494.83L2345.48 1514.5L2326.88 1534.17L2311.53 1553.83L2300.44 1573.5L2317.34 1593.17L2313.79 1612.83L2313.34 1632.5L2321.87 1652.17L2290.93 1671.83L2320.49 1691.5L2293.73 1711.17L2349.57 1730.83L2365.13 1750.5L2316.25 1770.17L2349.57 1789.83L2316.25 1809.5L2349.57 1829.17" stroke="#681612"/>
<path d="M2249.78 216.5L2250.41 236.17L2250.26 255.83L2248.77 275.5L2248.66 295.17L2250.25 314.83L2250.09 334.5L2249.9 354.17L2250.87 373.83L2249.71 393.5L2249.06 413.17L2249.14 432.83L2248.35 452.5L2250.41 472.17L2249.34 491.83L2249.63 511.5L2248.65 531.17L2250.72 550.83L2249.37 570.5L2248.41 590.17L2250.2 609.83L2250.29 629.5L2248.48 649.17L2250.05 668.83L2248.7 688.5L2248.82 708.17L2250.72 727.83L2250.77 747.5L2248.45 767.17L2248.52 786.83L2249.33 806.5L2248.72 826.17L2250.22 845.83L2248.51 865.5L2248.93 885.17L2250.62 904.83L2250.31 924.5L2252.6 944.17L2250.64 963.83L2255.19 983.5L2254.64 1003.17L2253.75 1022.83L2256.06 1042.5L2256.62 1062.17L2256.66 1081.83L2260.84 1101.5L2268.8 1121.17L2269.11 1140.83L2277.71 1160.5L2268.01 1180.17L2286.34 1199.83L2275.69 1219.5L2284.68 1239.17L2293.85 1258.83L2293.44 1278.5L2294.33 1298.17L2307.16 1317.83L2299.76 1337.5L2318.17 1357.17L2338.76 1376.83L2332.29 1396.5L2328.76 1416.17L2346.28 1435.83L2348.06 1455.5L2325.34 1475.17L2341.99 1494.83L2313.08 1514.5L2311.46 1534.17L2337.71 1553.83L2317.83 1573.5L2300.95 1593.17L2291.21 1612.83L2325.79 1632.5L2332.91 1652.17L2360.68 1671.83L2327.35 1691.5L2303.06 1711.17L2308.48 1730.83L2288.98 1750.5L2302.29 1770.17L2297.26 1789.83L2327.35 1809.5L2305.14 1829.17L2332.91 1848.83L2349.57 1868.5" stroke="#741c18"/>
<path d="M2250.51 216.5L2249.01 236.17L2250.13 255.83L2249.04 275.5L2250.38 295.17L2249.98 314.83L2248.42 334.5L2250.82 354.17L2250.51 373.83L2249.34 393.5L2249.69 413.17L2250.18 432.83L2250.25 452.5L2250.5 472.17L2250.84 491.83L2250.74 511.5L2248.92 531.17L2248.31 550.83L2249.01 570.5L2248.83 590.17L2250.29 609.83L2250.31 629.5L2250.86 649.17L2250.54 668.83L2250.33 688.5L2250.9 708.17L2250.24 727.83L2249.28 747.5L2250.38 767.17L2250.45 786.83L2249.09 806.5L2248.92 826.17L2248.75 845.83L2248.45 865.5L2250.21 885.17L2251.47 904.83L2252.73 924.5L2251.13 944.17L2253.87 963.83L2251.05 983.5L2251.41 1003.17L2249.86 1022.83L2251.84 1042.5L2256.11 1062.17L2255.27 1081.83L2259.82 1101.5L2245.15 1121.17L2271 1140.83L2271.96 1160.5L2269.84 1180.17L2273.04 1199.83L2279.17 1219.5L2268.24 1239.17L2283.16 1258.83L2305.13 1278.5L2297.52 1298.17L2327.35 1317.83L2347.35 1337.5L2332.91 1357.17L2304.02 1376.83L2326.14 1396.5L2308.23 1416.17L2332.96 1435.83L2317.43 1455.5L2345.38 1475.17L2342.65 1494.83L2325.35 1514.5L2302.49 1534.17L2313.96 1553.83L2320.88 1573.5L2285.97 1593.17L2292.32 1612.83L2297.69 1632.5L2315.42 1652.17L2286.5 1671.83L2289.27 1691.5L2312.45 1711.17L2284.65 1730.83L2301.72 1750.5L2269.98 1770.17L2349.57 1789.83L2305.14 1809.5L2294.03 1829.17L2349.57 1848.83L2305.14 1868.5" stroke="#80221d"/>
<path d="M2249.57 216.5L2249.28 236.17L2249.36 255.83L2248.98 275.5L2248.89 295.17L2249.66 314.83L2250.13 334.5L2250.38 354.17L2249.39 373.83L2250.81 393.5L2248.64 413.17L2250.91 432.83L2250.38 452.5L2250.54 472.17L2248.6 491.83L2249.92 511.5L2250.18 531.17L2250.54 550.83L2250.27 570.5L2248.34 590.17L2249.82 609.83L2248.56 629.5L2250.62 649.17L2250.42 668.83L2249.49 688.5L2250.69 708.17L2248.51 727.83L2249.58 747.5L2248.57 767.17L2250.3 786.83L2250.57 806.5L2249.65 826.17L2250.26 845.83L2248.36 865.5L2248.73 885.17L2249.06 904.83L2250.27 924.5L2252.99 944.17L2255.28 963.83L2252.23 983.5L2253.82 1003.17L2256.05 1022.83L2253.92 1042.5L2256.39 1062.17L2255.9 1081.83L2257.37 1101.5L2263.49 1121.17L2264.35 1140.83L2270.35 1160.5L2272.09 1180.17L2284.73 1199.83L2284.8 1219.5L2289.69 1239.17L2289.22 1258.83L2301.65 1278.5L2308.43 1298.17L2296.87 1317.83L2299.49 1337.5L2297.86 1357.17L2328.48 1376.83L2326.25 1396.5L2310.88 1416.17L2348.73 1435.83L2313.83 1455.5L2334.77 1475.17L2345.15 1494.83L2321.76 1514.5L2328.4 1534.17L2304.35 1553.83L2322.54 1573.5L2312.17 1593.17L2310.76 1612.83L2310.06 1632.5L2295.28 1652.17L2324.91 1671.83L2299.68 1691.5L2303.74 1711.17L2305.14 1730.83L2327.35 1750.5L2305.14 1770.17L2332.91 1789.83" stroke="#8c2822"/>
<path d="M2249.9 216.5L2250.78 236.17L2249.55 255.83L2248.9 275.5L2249.22 295.17L2250.76 314.83L2249.99 334.5L2250.63 354.17L2249.24 373.83L2250.12 393.5L2250.73 413.17L2248.58 432.83L2250.42 452.5L2250.67 472.17L2250.83 491.83L2248.63 511.5L2248.77 531.17L2250.7 550.83L2249.35 570.5L2249.01 590.17L2250.01 609.83L2249.13 629.5L2249.22 649.17L2249.3 668.83L2248.83 688.5L2250.48 708.17L2250.09 727.83L2248.61 747.5L2248.74 767.17L2248.32 786.83L2249.43 806.5L2250.07 826.17L2249.55 845.83L2248.78 865.5L2249.87 885.17L2250.76 904.83L2247.48 924.5L2248.87 944.17L2250.98 963.83L2251.69 983.5L2253.12 1003.17L2254.35 1022.83L2253.76 1042.5L2256.16 1062.17L2256.42 1081.83L2254.4 1101.5L2250.1 1121.17L2255.94 1140.83L2263.68 1160.5L2260.2 1180.17L2283.08 1199.83L2332.91 1219.5L2355.13 1239.17L2375.12 1258.83L2375.12 1278.5L2406.23 1298.17L2347.35 1317.83L2327.35 1337.5L2301.77 1357.17L2302.72 1376.83L2346.63 1396.5L2314.2 1416.17L2318.66 1435.83L2325.08 1455.5L2322.52 1475.17L2326.43 1494.83L2331.6 1514.5L2309.51 1534.17L2294.01 1553.83L2312.65 1573.5L2304.67 1593.17L2295.15 1612.83L2285.81 1632.5L2295.93 1652.17L2283.37 1671.83L2285.73 1691.5L2292.7 1711.17L2305.63 1730.83L2293.06 1750.5L2282.74 1770.17L2294.61 1789.83L2295.85 1809.5L2304.06 1829.17L2290.39 1848.83L2277.48 1868.5" stroke="#982e27"/>
<path d="M2250.03 216.5L2249.58 236.17L2248.53 255.83L2249.23 275.5L2248.47 295.17L2249.95 314.83L2249.24 334.5L2250.7 354.17L2249.76 373.83L2250.21 393.5L2249.19 413.17L2249.77 432.83L2250.6 452.5L2249.25 472.17L2250.58 491.83L2250.8 511.5L2249.13 531.17L2250.17 550.83L2248.7 570.5L2250.78 590.17L2250.3 609.83L2248.31 629.5L2250 649.17L2248.84 668.83L2250.38 688.5L2249.73 708.17L2249.71 727.83L2249.06 747.5L2248.97 767.17L2250.05 786.83L2248.38 806.5L2249.09 826.17L2249.62 845.83L2250.57 865.5L2248.47 885.17L2249.06 904.83L2249.67 924.5L2253.85 944.17L2249.12 963.83L2254.2 983.5L2255.63 1003.17L2254.26 1022.83L2253.25 1042.5L2258.6 1062.17L2256.11 1081.83L2254.89 1101.5L2271.09 1121.17L2254.33 1140.83L2253.33 1160.5L2266.27 1180.17L2277.75 1199.83L2288.67 1219.5L2273.83 1239.17L2285 1258.83L2308.11 1278.5L2294.55 1298.17L2291.66 1317.83L2322.26 1337.5L2318.47 1357.17L2332.39 1376.83L2341.33 1396.5L2311.21 1416.17L2327.01 1435.83L2307.31 1455.5L2332.74 1475.17L2346.08 1494.83L2318.86 1514.5L2323.61 1534.17L2318.47 1553.83L2327.4 1573.5L2299.08 1593.17L2293.12 1612.83L2295.7 1632.5L2309.46 1652.17L2298.7 1671.83L2287.82 1691.5L2315.38 1711.17L2306.99 1730.83L2298.21 1750.5L2275.83 1770.17L2316.25 1789.83L2327.35 1809.5L2188.49 1829.17L2338.46 1848.83L3582.68 1868.5" stroke="#a4352c"/>
<path d="M2250.7 216.5L2248.82 236.17L2248.7 255.83L2248.62 275.5L2249.81 295.17L2249.75 314.83L2250.1 334.5L2250.02 354.17L2249.08 373.83L2249.08 393.5L2250.65 413.17L2249.84 432.83L2248.31 452.5L2249.1 472.17L2248.85 491.83L2249.39 511.5L2248.99 531.17L2248.34 550.83L2248.69 570.5L2249.59 590.17L2249.59 609.83L2249.46 629.5L2249.58 649.17L2249.91 668.83L2250.28 688.5L2250.92 708.17L2248.81 727.83L2249.74 747.5L2248.7 767.17L2248.38 786.83L2248.71 806.5L2249.09 826.17L2250.14 845.83L2250.7 865.5L2249.27 885.17L2250.7 904.83L2249.78 924.5L2249.72 944.17L2250.21 963.83L2255.22 983.5L2251.35 1003.17L2254.6 1022.83L2257.82 1042.5L2255.25 1062.17L2258 1081.83L2260.22 1101.5L2257.89 1121.17L2262.03 1140.83L2275.92 1160.5L2274.28 1180.17L2271 1199.83L2287.39 1219.5L2288.76 1239.17L2298.89 1258.83L2296.38 1278.5L2311.15 1298.17L2296.71 1317.83L2311.32 1337.5L2300.2 1357.17L2315.07 1376.83L2326.12 1396.5L2347.38 1416.17L2336.38 1435.83L2336.63 1455.5L2323.44 1475.17L2346.01 1494.83L2327.7 1514.5L2318.68 1534.17L2301.47 1553.83L2309.97 1573.5L2321.32 1593.17L2300.01 1612.83L2324.89 1632.5L2317.98 1652.17L2319.4 1671.83L2289.96 1691.5L2279.62 1711.17L2283.76 1730.83L2273.19 1750.5L2279.56 1770.17L2305.41 1789.83L2299.04 1809.5L2316.25 1829.17L2282.92 1848.83L2310.69 1868.5" stroke="#b03b31"/>
<path d="M2249.73 216.5L2250.29 236.17L2249.34 255.83L2250.34 275.5L2248.67 295.17L2250.55 314.83L2250.66 334.5L2249.95 354.17L2249.74 373.83L2248.68 393.5L2250.18 413.17L2250.59 432.83L2250.87 452.5L2249.37 472.17L2248.9 491.83L2250.4 511.5L2249.61 531.17L2249.42 550.83L2249.83 570.5L2248.51 590.17L2250.37 609.83L2250.54 629.5L2249.35 649.17L2249.7 668.83L2250.02 688.5L2250.34 708.17L2250.63 727.83L2249.97 747.5L2249.69 767.17L2249.74 786.83L2249.69 806.5L2249.46 826.17L2250.12 845.83L2249.02 865.5L2248.33 885.17L2249.3 904.83L2248.76 924.5L2249.11 944.17L2249.94 963.83L2250.1 983.5L2250.19 1003.17L2255.58 1022.83L2254.32 1042.5L2252.39 1062.17L2254.96 1081.83L2257.55 1101.5L2248.7 1121.17L2274.85 1140.83L2273.48 1160.5L2259.17 1180.17L2282.92 1199.83L2318.47 1219.5L2316.25 1239.17L2329.58 1258.83L2346.24 1278.5L2321.8 1298.17L2291.82 1317.83L2320.43 1337.5L2326.26 1357.17L2308.41 1376.83L2325.13 1396.5L2331.72 1416.17L2310.17 1435.83L2328.29 1455.5L2323.25 1475.17L2325.95 1494.83L2341.19 1514.5L2325.61 1534.17L2336.73 1553.83L2314.21 1573.5L2292.92 1593.17L2319.29 1612.83L2319.68 1632.5L2314.64 1652.17L2315.23 1671.83L2296.15 1691.5L2278.14 1711.17L2275.82 1730.83L2278.86 1750.5L2287.18 1770.17L2271.08 1789.83L2290.19 1809.5L2289.59 1829.17L2289.53 1848.83L2277.41 1868.5" stroke="#bc4136"/>
<path d="M2248.58 216.5L2248.91 236.17L2250.24 255.83L2248.82 275.5L2248.99 295.17L2250.51 314.83L2248.61 334.5L2249.75 354.17L2250.42 373.83L2249.07 393.5L2248.48 413.17L2248.46 432.83L2250.4 452.5L2249.36 472.17L2248.52 491.83L2248.35 511.5L2250.6 531.17L2250.32 550.83L2250.89 570.5L2249.9 590.17L2250.36 609.83L2249.85 629.5L2249.27 649.17L2248.49 668.83L2248.45 688.5L2248.46 708.17L2249.01 727.83L2249.29 747.5L2248.92 767.17L2249.73 786.83L2249.65 806.5L2250.17 826.17L2250.88 845.83L2248.58 865.5L2249.2 885.17L2251.13 904.83L2248.12 924.5L2246.44 944.17L2252.09 963.83L2249.88 983.5L2248.49 1003.17L2249.29 1022.83L2256.18 1042.5L2255.1 1062.17L2252.67 1081.83L2258.85 1101.5L2259.24 1121.17L2264.61 1140.83L2261.12 1160.5L2249.52 1180.17L2266.26 1199.83L2264.79 1219.5L2289.97 1239.17L2280.73 1258.83L2279.69 1278.5L2305.78 1298.17L2286.85 1317.83L2294.75 1337.5L2317.33 1357.17L2298.74 1376.83L2308.95 1396.5L2308.97 1416.17L2343.01 1435.83L2341.92 1455.5L2338.32 1475.17L2327.39 1494.83L2314.53 1514.5L2312.72 1534.17L2309.8 1553.83L2284.73 1573.5L2316.4 1593.17L2279.27 1612.83L2296.32 1632.5L2311.49 1652.17L2291.21 1671.83L2312.46 1691.5L2290.43 1711.17L2289.1 1730.83L2277.83 1750.5L2277.48 1770.17L2261.1 1789.83L2298.56 1809.5L2295.55 1829.17L2271.22 1848.83L2294.13 1868.5" stroke="#c8473c"/>
<path d="M2249.43 216.5L2249.14 236.17L2249.36 255.83L2250.73 275.5L2249.34 295.17L2248.71 314.83L2248.9 334.5L2248.27 354.17L2250.25 373.83L2249.59 393.5L2249.35 413.17L2249.65 432.83L2250.16 452.5L2250.64 472.17L2248.96 491.83L2250.49 511.5L2248.51 531.17L2250.53 550.83L2250.03 570.5L2248.31 590.17L2248.44 609.83L2248.81 629.5L2250.16 649.17L2249.46 668.83L2249.57 688.5L2249.86 708.17L2248.32 727.83L2250.49 747.5L2250.51 767.17L2250.31 786.83L2249.45 806.5L2250.27 826.17L2249.65 845.83L2249.38 865.5L2250.83 885.17L2249.4 904.83L2248.47 924.5L2249.13 944.17L2247.05 963.83L2247.59 983.5L2249.98 1003.17L2254.42 1022.83L2253.76 1042.5L2251.37 1062.17L2256.83 1081.83L2258.38 1101.5L2268.14 1121.17L2257.25 1140.83L2250.72 1160.5L2266.4 1180.17L2253.65 1199.83L2283.21 1219.5L2282.94 1239.17L2295.61 1258.83L2296.07 1278.5L2303.59 1298.17L2301.64 1317.83L2300.47 1337.5L2295.4 1357.17L2331.89 1376.83L2314.88 1396.5L2340.94 1416.17L2337.43 1435.83L2337.65 1455.5L2337.35 1475.17L2307.4 1494.83L2326.8 1514.5L2326.47 1534.17L2297.64 1553.83L2317.2 1573.5L2299.13 1593.17L2279.38 1612.83L2288.25 1632.5L2278.88 1652.17L2288.79 1671.83L2305.14 1691.5L2310.69 1711.17L3382.72 1730.83L3438.26 1750.5L694.32 1770.17L2576.2 1789.83L2477.33 1809.5L3538.25 1829.17L2619.52 1848.83L2289.58 1868.5" stroke="#d44e41"/>
<path d="M2248.61 216.5L2249.91 236.17L2250.03 255.83L2249.83 275.5L2249.02 295.17L2250.81 314.83L2248.26 334.5L2250.15 354.17L2250.32 373.83L2250.1 393.5L2250.78 413.17L2249.72 432.83L2249.61 452.5L2250.82 472.17L2249.23 491.83L2250.5 511.5L2250.05 531.17L2248.65 550.83L2248.39 570.5L2248.43 590.17L2248.85 609.83L2248.43 629.5L2248.91 649.17L2249.82 668.83L2249.68 688.5L2250.15 708.17L2248.63 727.83L2250.53 747.5L2249.3 767.17L2249.52 786.83L2248.91 806.5L2250.77 826.17L2249.28 845.83L2250.47 865.5L2248.31 885.17L2249.87 904.83L2248.1 924.5L2252.49 944.17L2247.02 963.83L2252.39 983.5L2250.38 1003.17L2250.41 1022.83L2255.33 1042.5L2254.35 1062.17L2256.56 1081.83L2255.55 1101.5L2263.17 1121.17L2260.58 1140.83L2246.12 1160.5L2299.58 1180.17L2289.58 1199.83L2310.69 1219.5L2327.35 1239.17L2337.35 1258.83L2307.36 1278.5L2299.58 1298.17L2302.05 1317.83L2304.54 1337.5L2306.41 1357.17L2313.82 1376.83L2332.7 1396.5L2321.22 1416.17L2337.83 1435.83L2337.82 1455.5L2320.5 1475.17L2334.17 1494.83L2311.74 1514.5L2305.55 1534.17L2309.5 1553.83L2305.87 1573.5L2291.37 1593.17L2290.43 1612.83L2277.64 1632.5L2291.74 1652.17L2299.58 1671.83L2321.8 1691.5L3416.05 1711.17" stroke="#e05446"/>
<path d="M2249.94 216.5L2248.81 236.17L2249.36 255.83L2249.98 275.5L2249.41 295.17L2249.78 314.83L2249.1 334.5L2249.12 354.17L2250.54 373.83L2248.29 393.5L2250.05 413.17L2248.56 432.83L2250.48 452.5L2249.23 472.17L2249.26 491.83L2248.8 511.5L2249.35 531.17L2249.3 550.83L2250.71 570.5L2250.88 590.17L2250.11 609.83L2249.64 629.5L2250.6 649.17L2248.73 668.83L2248.93 688.5L2249.52 708.17L2250.85 727.83L2248.74 747.5L2248.63 767.17L2250.6 786.83L2249.23 806.5L2250.43 826.17L2249.56 845.83L2250.7 865.5L2249.96 885.17L2250.85 904.83L2252.01 924.5L2252.51 944.17L2248.09 963.83L2250.61 983.5L2248.72 1003.17L2254.71 1022.83L2251.02 1042.5L2251.44 1062.17L2257.32 1081.83L2253.46 1101.5L2252.77 1121.17L2257.02 1140.83L2259.65 1160.5L2270.06 1180.17L2255.73 1199.83L2282.18 1219.5L2279.2 1239.17L2270.63 1258.83L2304.04 1278.5L2297.4 1298.17L2290.78 1317.83L2303.52 1337.5L2292.91 1357.17L2335.76 1376.83L2325.08 1396.5L2325.13 1416.17L2337.44 1435.83L2322.15 1455.5L2318.1 1475.17L2333.63 1494.83L2308.08 1514.5L2296.88 1534.17L2295.88 1553.83L2302.7 1573.5L2298.72 1593.17L2301.53 1612.83L2279.13 1632.5L2291.03 1652.17L2260.7 1671.83L2316.25 1691.5L2254.03 1711.17L2269.59 1730.83L2251.81 1750.5L2265.14 1770.17L2248.48 1789.83L2260.7 1809.5L2575.09 1829.17L3180.53 1848.83" stroke="#ec5a4b"/>
</g>
</g>
<rect x="2138.5" y="216.5" width="1222" height="1652" fill="none" stroke="#fff" stroke-width="5.33"/>
<path d="M2249.59 1868.5v11.67M2471.77 1868.5v11.67M2693.95 1868.5v11.67M2916.14 1868.5v11.67M3138.32 1868.5v11.67M3360.5 1868.5v11.67M2138.5 1789.83h-11.67M2138.5 1593.17h-11.67M2138.5 1396.5h-11.67M2138.5 1199.83h-11.67M2138.5 1003.17h-11.67M2138.5 806.5h-11.67M2138.5 609.83h-11.67M2138.5 413.17h-11.67M2138.5 216.5h-11.67" stroke="#fff" stroke-width="3.3" fill="none"/>
<text transform="translate(2187.54 1926.65) scale(1.0722 1)" font-family='"Liberation Sans", sans-serif' font-size="45.49" fill="#fff" stroke="#fff" stroke-width="0.91" stroke-linejoin="round" vector-effect="non-scaling-stroke">0.000</text>
<text transform="translate(2410.6 1926.65) scale(1.0611 1)" font-family='"Liberation Sans", sans-serif' font-size="45.49" fill="#fff" stroke="#fff" stroke-width="0.91" stroke-linejoin="round" vector-effect="non-scaling-stroke">0.002</text>
<text transform="translate(2630.94 1926.65) scale(1.0849 1)" font-family='"Liberation Sans", sans-serif' font-size="45.49" fill="#fff" stroke="#fff" stroke-width="0.91" stroke-linejoin="round" vector-effect="non-scaling-stroke">0.004</text>
<text transform="translate(2854.66 1926.65) scale(1.0637 1)" font-family='"Liberation Sans", sans-serif' font-size="45.49" fill="#fff" stroke="#fff" stroke-width="0.91" stroke-linejoin="round" vector-effect="non-scaling-stroke">0.006</text>
<text transform="translate(3076.84 1926.65) scale(1.0637 1)" font-family='"Liberation Sans", sans-serif' font-size="45.49" fill="#fff" stroke="#fff" stroke-width="0.91" stroke-linejoin="round" vector-effect="non-scaling-stroke">0.008</text>
<text transform="translate(3301.09 1926.65) scale(1.0259 1)" font-family='"Liberation Sans", sans-serif' font-size="45.49" fill="#fff" stroke="#fff" stroke-width="0.91" stroke-linejoin="round" vector-effect="non-scaling-stroke">0.010</text>
<text transform="translate(2064.22 1806.38) scale(0.9571 1)" font-family='"Liberation Sans", sans-serif' font-size="45.49" fill="#fff" stroke="#fff" stroke-width="0.91" stroke-linejoin="round" vector-effect="non-scaling-stroke">10</text>
<text transform="translate(2064.67 1609.71) scale(0.9426 1)" font-family='"Liberation Sans", sans-serif' font-size="45.49" fill="#fff" stroke="#fff" stroke-width="0.91" stroke-linejoin="round" vector-effect="non-scaling-stroke">15</text>
<text transform="translate(2061.06 1413.05) scale(1.0546 1)" font-family='"Liberation Sans", sans-serif' font-size="45.49" fill="#fff" stroke="#fff" stroke-width="0.91" stroke-linejoin="round" vector-effect="non-scaling-stroke">20</text>
<text transform="translate(2063.77 1216.38) scale(0.9610 1)" font-family='"Liberation Sans", sans-serif' font-size="45.49" fill="#fff" stroke="#fff" stroke-width="0.91" stroke-linejoin="round" vector-effect="non-scaling-stroke">25</text>
<text transform="translate(2061.54 1019.71) scale(1.0550 1)" font-family='"Liberation Sans", sans-serif' font-size="45.49" fill="#fff" stroke="#fff" stroke-width="0.91" stroke-linejoin="round" vector-effect="non-scaling-stroke">30</text>
<text transform="translate(2062.65 823.05) scale(0.9944 1)" font-family='"Liberation Sans", sans-serif' font-size="45.49" fill="#fff" stroke="#fff" stroke-width="0.91" stroke-linejoin="round" vector-effect="non-scaling-stroke">35</text>
<text transform="translate(2061.34 626.38) scale(1.0487 1)" font-family='"Liberation Sans", sans-serif' font-size="45.49" fill="#fff" stroke="#fff" stroke-width="0.91" stroke-linejoin="round" vector-effect="non-scaling-stroke">40</text>
<text transform="translate(2062.38 429.71) scale(1.0101 1)" font-family='"Liberation Sans", sans-serif' font-size="45.49" fill="#fff" stroke="#fff" stroke-width="0.91" stroke-linejoin="round" vector-effect="non-scaling-stroke">45</text>
<text transform="translate(2061.07 233.05) scale(1.0380 1)" font-family='"Liberation Sans", sans-serif' font-size="45.49" fill="#fff" stroke="#fff" stroke-width="0.91" stroke-linejoin="round" vector-effect="non-scaling-stroke">50</text>
<text transform="translate(2319.08 2000.81) scale(1.0744 1)" font-family='"Liberation Sans", sans-serif' font-size="59.43" fill="#fff" stroke="#fff" stroke-width="1.19" stroke-linejoin="round" vector-effect="non-scaling-stroke">Aerosol</text> <text transform="translate(2554.02 2000.81) scale(1.1257 1)" font-family='"Liberation Sans", sans-serif' font-size="59.43" fill="#fff" stroke="#fff" stroke-width="1.19" stroke-linejoin="round" vector-effect="non-scaling-stroke">Extinction</text> <text transform="translate(2860.62 2000.81) scale(1.1358 1)" font-family='"Liberation Sans", sans-serif' font-size="59.43" fill="#fff" stroke="#fff" stroke-width="1.19" stroke-linejoin="round" vector-effect="non-scaling-stroke">Coefficient</text>
<text transform="translate(2651.99 2076.71) scale(1.2038 1)" font-family='"Liberation Sans", sans-serif' font-size="59.43" fill="#fff" stroke="#fff" stroke-width="1.19" stroke-linejoin="round" vector-effect="non-scaling-stroke">[km</text><text transform="translate(2769.14 2054.7) scale(1.2026 1)" font-family='"Liberation Serif", serif' font-size="40.91" fill="#fff">−1</text><text transform="translate(2828.59 2076.71) scale(1.2797 1)" font-family='"Liberation Sans", sans-serif' font-size="59.43" fill="#fff" stroke="#fff" stroke-width="1.19" stroke-linejoin="round" vector-effect="non-scaling-stroke">]</text>
<text transform="translate(2023.31 1233.33) rotate(-90) scale(1.1385 1)" font-family='"Liberation Sans", sans-serif' font-size="59.43" fill="#fff" stroke="#fff" stroke-width="1.19" stroke-linejoin="round" vector-effect="non-scaling-stroke">Altitude</text> <text transform="translate(2023.31 988.53) rotate(-90) scale(1.2322 1)" font-family='"Liberation Sans", sans-serif' font-size="59.43" fill="#fff" stroke="#fff" stroke-width="1.19" stroke-linejoin="round" vector-effect="non-scaling-stroke">[km]</text>
<text transform="translate(2635.77 195.7) scale(1.0006 1)" font-family='"Liberation Sans", sans-serif' font-size="67.46" font-weight="bold" fill="#fff">Sunset</text>
<g id="suptitle"><text transform="translate(964.07 102.3) scale(0.9526 1)" font-family='"Liberation Sans", sans-serif' font-size="81.41" font-weight="bold" fill="#fff">SAGE</text> <text transform="translate(1214.49 99.11) scale(0.7824 1)" font-family='"Liberation Mono", monospace' font-size="75.03" font-weight="bold" fill="#fff" stroke="#fff" stroke-width="6.38" stroke-linejoin="round" vector-effect="non-scaling-stroke">I</text><text transform="translate(1258.87 99.11) scale(0.7854 1)" font-family='"Liberation Mono", monospace' font-size="75.03" font-weight="bold" fill="#fff" stroke="#fff" stroke-width="6.38" stroke-linejoin="round" vector-effect="non-scaling-stroke">I</text><text transform="translate(1302.97 99.11) scale(0.7854 1)" font-family='"Liberation Mono", monospace' font-size="75.03" font-weight="bold" fill="#fff" stroke="#fff" stroke-width="6.38" stroke-linejoin="round" vector-effect="non-scaling-stroke">I</text><text transform="translate(1342.01 113) scale(1.8407 1)" font-family='"Liberation Sans", sans-serif' font-size="92.07" font-weight="bold" fill="#fff">/</text><text transform="translate(1394.5 99.11) scale(0.7973 1)" font-family='"Liberation Mono", monospace' font-size="75.03" font-weight="bold" fill="#fff" stroke="#fff" stroke-width="6.38" stroke-linejoin="round" vector-effect="non-scaling-stroke">I</text><text transform="translate(1434.65 102.3) scale(0.9208 1)" font-family='"Liberation Sans", sans-serif' font-size="81.41" font-weight="bold" fill="#fff">SS</text> <text transform="translate(1562.22 102.3) scale(1.0564 1)" font-family='"Liberation Sans", sans-serif' font-size="81.41" font-weight="bold" fill="#fff">520nm</text> <text transform="translate(1858.9 102.3) scale(1.0131 1)" font-family='"Liberation Sans", sans-serif' font-size="81.41" font-weight="bold" fill="#fff">Aerosol</text> <text transform="translate(2193.36 102.3) scale(1.0390 1)" font-family='"Liberation Sans", sans-serif' font-size="81.41" font-weight="bold" fill="#fff">Extinction</text> <text transform="translate(2628.5 102.3) scale(1.0445 1)" font-family='"Liberation Sans", sans-serif' font-size="81.41" font-weight="bold" fill="#fff">Coefficient</text>
<text transform="translate(1684.49 190.2) scale(1.1079 1)" font-family='"Liberation Sans", sans-serif' font-size="81.41" font-weight="bold" fill="#fff">02</text> <text transform="translate(1809 190.2) scale(1.0454 1)" font-family='"Liberation Sans", sans-serif' font-size="81.41" font-weight="bold" fill="#fff">October</text> <text transform="translate(2161.99 190.2) scale(1.0365 1)" font-family='"Liberation Sans", sans-serif' font-size="81.41" font-weight="bold" fill="#fff">2022</text></g>
<g id="legend-sr">
<rect x="13.5" y="759.5" width="424.9" height="897" rx="7" ry="7" fill="#000" stroke="#a3a3a3" stroke-width="3.33"/>
<rect x="23.9" y="785.9" width="90" height="10" fill="#064068"/>
<text transform="translate(141.48 803.91) scale(1.0308 1)" font-family='"Liberation Sans", sans-serif' font-size="38.93" fill="#fff" stroke="#fff" stroke-width="0.78" stroke-linejoin="round" vector-effect="non-scaling-stroke">2022100203SR</text>
<rect x="23.9" y="844.9" width="90" height="10" fill="#07456f"/>
<text transform="translate(141.48 862.91) scale(1.0308 1)" font-family='"Liberation Sans", sans-serif' font-size="38.93" fill="#fff" stroke="#fff" stroke-width="0.78" stroke-linejoin="round" vector-effect="non-scaling-stroke">2022100206SR</text>
<rect x="23.9" y="903.9" width="90" height="10" fill="#074a76"/>
<text transform="translate(141.48 921.91) scale(1.0308 1)" font-family='"Liberation Sans", sans-serif' font-size="38.93" fill="#fff" stroke="#fff" stroke-width="0.78" stroke-linejoin="round" vector-effect="non-scaling-stroke">2022100209SR</text>
<rect x="23.9" y="962.9" width="90" height="10" fill="#084f7d"/>
<text transform="translate(141.52 980.91) scale(1.0139 1)" font-family='"Liberation Sans", sans-serif' font-size="38.93" fill="#fff" stroke="#fff" stroke-width="0.78" stroke-linejoin="round" vector-effect="non-scaling-stroke">2022100212SR</text>
<rect x="23.9" y="1021.9" width="90" height="10" fill="#085483"/>
<text transform="translate(141.5 1039.91) scale(1.0196 1)" font-family='"Liberation Sans", sans-serif' font-size="38.93" fill="#fff" stroke="#fff" stroke-width="0.78" stroke-linejoin="round" vector-effect="non-scaling-stroke">2022100215SR</text>
<rect x="23.9" y="1080.9" width="90" height="10" fill="#09598a"/>
<text transform="translate(141.5 1098.91) scale(1.0196 1)" font-family='"Liberation Sans", sans-serif' font-size="38.93" fill="#fff" stroke="#fff" stroke-width="0.78" stroke-linejoin="round" vector-effect="non-scaling-stroke">2022100218SR</text>
<rect x="23.9" y="1139.9" width="90" height="10" fill="#095e91"/>
<text transform="translate(141.53 1157.91) scale(1.0083 1)" font-family='"Liberation Sans", sans-serif' font-size="38.93" fill="#fff" stroke="#fff" stroke-width="0.78" stroke-linejoin="round" vector-effect="non-scaling-stroke">2022100221SR</text>
<rect x="23.9" y="1198.9" width="90" height="10" fill="#0a6398"/>
<text transform="translate(141.48 1216.91) scale(1.0308 1)" font-family='"Liberation Sans", sans-serif' font-size="38.93" fill="#fff" stroke="#fff" stroke-width="0.78" stroke-linejoin="round" vector-effect="non-scaling-stroke">2022100224SR</text>
<rect x="23.9" y="1257.9" width="90" height="10" fill="#0b689f"/>
<text transform="translate(141.5 1275.91) scale(1.0196 1)" font-family='"Liberation Sans", sans-serif' font-size="38.93" fill="#fff" stroke="#fff" stroke-width="0.78" stroke-linejoin="round" vector-effect="non-scaling-stroke">2022100227SR</text>
<rect x="23.9" y="1316.9" width="90" height="10" fill="#0b6da6"/>
<text transform="translate(141.49 1334.91) scale(1.0252 1)" font-family='"Liberation Sans", sans-serif' font-size="38.93" fill="#fff" stroke="#fff" stroke-width="0.78" stroke-linejoin="round" vector-effect="non-scaling-stroke">2022100230SR</text>
<rect x="23.9" y="1375.9" width="90" height="10" fill="#0c72ad"/>
<text transform="translate(141.52 1393.91) scale(1.0139 1)" font-family='"Liberation Sans", sans-serif' font-size="38.93" fill="#fff" stroke="#fff" stroke-width="0.78" stroke-linejoin="round" vector-effect="non-scaling-stroke">2022100233SR</text>
<rect x="23.9" y="1434.9" width="90" height="10" fill="#0c77b3"/>
<text transform="translate(141.5 1452.91) scale(1.0196 1)" font-family='"Liberation Sans", sans-serif' font-size="38.93" fill="#fff" stroke="#fff" stroke-width="0.78" stroke-linejoin="round" vector-effect="non-scaling-stroke">2022100236SR</text>
<rect x="23.9" y="1493.9" width="90" height="10" fill="#0d7cba"/>
<text transform="translate(141.5 1511.91) scale(1.0196 1)" font-family='"Liberation Sans", sans-serif' font-size="38.93" fill="#fff" stroke="#fff" stroke-width="0.78" stroke-linejoin="round" vector-effect="non-scaling-stroke">2022100239SR</text>
<rect x="23.9" y="1552.9" width="90" height="10" fill="#0d81c1"/>
<text transform="translate(141.48 1570.91) scale(1.0308 1)" font-family='"Liberation Sans", sans-serif' font-size="38.93" fill="#fff" stroke="#fff" stroke-width="0.78" stroke-linejoin="round" vector-effect="non-scaling-stroke">2022100242SR</text>
<rect x="23.9" y="1611.9" width="90" height="10" fill="#0e86c8"/>
<text transform="translate(141.48 1629.91) scale(1.0308 1)" font-family='"Liberation Sans", sans-serif' font-size="38.93" fill="#fff" stroke="#fff" stroke-width="0.78" stroke-linejoin="round" vector-effect="non-scaling-stroke">2022100245SR</text>
</g>
<g id="legend-ss">
<rect x="3380.5" y="759.5" width="424.8" height="897" rx="7" ry="7" fill="#000" stroke="#a3a3a3" stroke-width="3.33"/>
<rect x="3390.9" y="785.9" width="90" height="10" fill="#440303"/>
<text transform="translate(3508.48 803.91) scale(1.0302 1)" font-family='"Liberation Sans", sans-serif' font-size="38.93" fill="#fff" stroke="#fff" stroke-width="0.78" stroke-linejoin="round" vector-effect="non-scaling-stroke">2022100202SS</text>
<rect x="3390.9" y="844.9" width="90" height="10" fill="#500908"/>
<text transform="translate(3508.48 862.91) scale(1.0302 1)" font-family='"Liberation Sans", sans-serif' font-size="38.93" fill="#fff" stroke="#fff" stroke-width="0.78" stroke-linejoin="round" vector-effect="non-scaling-stroke">2022100205SS</text>
<rect x="3390.9" y="903.9" width="90" height="10" fill="#5c0f0d"/>
<text transform="translate(3508.48 921.91) scale(1.0302 1)" font-family='"Liberation Sans", sans-serif' font-size="38.93" fill="#fff" stroke="#fff" stroke-width="0.78" stroke-linejoin="round" vector-effect="non-scaling-stroke">2022100208SS</text>
<rect x="3390.9" y="962.9" width="90" height="10" fill="#681612"/>
<text transform="translate(3508.52 980.91) scale(1.0133 1)" font-family='"Liberation Sans", sans-serif' font-size="38.93" fill="#fff" stroke="#fff" stroke-width="0.78" stroke-linejoin="round" vector-effect="non-scaling-stroke">2022100211SS</text>
<rect x="3390.9" y="1021.9" width="90" height="10" fill="#741c18"/>
<text transform="translate(3508.5 1039.91) scale(1.0245 1)" font-family='"Liberation Sans", sans-serif' font-size="38.93" fill="#fff" stroke="#fff" stroke-width="0.78" stroke-linejoin="round" vector-effect="non-scaling-stroke">2022100214SS</text>
<rect x="3390.9" y="1080.9" width="90" height="10" fill="#80221d"/>
<text transform="translate(3508.53 1098.91) scale(1.0079 1)" font-family='"Liberation Sans", sans-serif' font-size="38.93" fill="#fff" stroke="#fff" stroke-width="0.78" stroke-linejoin="round" vector-effect="non-scaling-stroke">2022100217SS</text>
<rect x="3390.9" y="1139.9" width="90" height="10" fill="#8c2822"/>
<text transform="translate(3508.48 1157.91) scale(1.0302 1)" font-family='"Liberation Sans", sans-serif' font-size="38.93" fill="#fff" stroke="#fff" stroke-width="0.78" stroke-linejoin="round" vector-effect="non-scaling-stroke">2022100220SS</text>
<rect x="3390.9" y="1198.9" width="90" height="10" fill="#982e27"/>
<text transform="translate(3508.51 1216.91) scale(1.0192 1)" font-family='"Liberation Sans", sans-serif' font-size="38.93" fill="#fff" stroke="#fff" stroke-width="0.78" stroke-linejoin="round" vector-effect="non-scaling-stroke">2022100223SS</text>
<rect x="3390.9" y="1257.9" width="90" height="10" fill="#a4352c"/>
<text transform="translate(3508.5 1275.91) scale(1.0245 1)" font-family='"Liberation Sans", sans-serif' font-size="38.93" fill="#fff" stroke="#fff" stroke-width="0.78" stroke-linejoin="round" vector-effect="non-scaling-stroke">2022100226SS</text>
<rect x="3390.9" y="1316.9" width="90" height="10" fill="#b03b31"/>
<text transform="translate(3508.5 1334.91) scale(1.0245 1)" font-family='"Liberation Sans", sans-serif' font-size="38.93" fill="#fff" stroke="#fff" stroke-width="0.78" stroke-linejoin="round" vector-effect="non-scaling-stroke">2022100229SS</text>
<rect x="3390.9" y="1375.9" width="90" height="10" fill="#bc4136"/>
<text transform="translate(3508.52 1393.91) scale(1.0132 1)" font-family='"Liberation Sans", sans-serif' font-size="38.93" fill="#fff" stroke="#fff" stroke-width="0.78" stroke-linejoin="round" vector-effect="non-scaling-stroke">2022100232SS</text>
<rect x="3390.9" y="1434.9" width="90" height="10" fill="#c8473c"/>
<text transform="translate(3508.51 1452.91) scale(1.0192 1)" font-family='"Liberation Sans", sans-serif' font-size="38.93" fill="#fff" stroke="#fff" stroke-width="0.78" stroke-linejoin="round" vector-effect="non-scaling-stroke">2022100235SS</text>
<rect x="3390.9" y="1493.9" width="90" height="10" fill="#d44e41"/>
<text transform="translate(3508.51 1511.91) scale(1.0192 1)" font-family='"Liberation Sans", sans-serif' font-size="38.93" fill="#fff" stroke="#fff" stroke-width="0.78" stroke-linejoin="round" vector-effect="non-scaling-stroke">2022100238SS</text>
<rect x="3390.9" y="1552.9" width="90" height="10" fill="#e05446"/>
<text transform="translate(3508.5 1570.91) scale(1.0245 1)" font-family='"Liberation Sans", sans-serif' font-size="38.93" fill="#fff" stroke="#fff" stroke-width="0.78" stroke-linejoin="round" vector-effect="non-scaling-stroke">2022100241SS</text>
<rect x="3390.9" y="1611.9" width="90" height="10" fill="#ec5a4b"/>
<text transform="translate(3508.46 1629.91) scale(1.0415 1)" font-family='"Liberation Sans", sans-serif' font-size="38.93" fill="#fff" stroke="#fff" stroke-width="0.78" stroke-linejoin="round" vector-effect="non-scaling-stroke">2022100244SS</text>
</g>
<path d="M40 1979.9H120" stroke="#fff" stroke-width="10" stroke-dasharray="37 16" fill="none"/>
<path d="M40 2040H120" stroke="#fff" stroke-width="10" stroke-dasharray="10 16.5" fill="none"/>
<rect x="40.5" y="2085.5" width="80" height="28" fill="#6d6e72" stroke="#8f9092" stroke-width="3"/>
<text transform="translate(150.98 1993.69) scale(1.0713 1)" font-family='"Liberation Sans", sans-serif' font-size="40.61" fill="#fff" stroke="#fff" stroke-width="0.81" stroke-linejoin="round" vector-effect="non-scaling-stroke">Mean</text> <text transform="translate(271.49 1993.69) scale(1.0698 1)" font-family='"Liberation Sans", sans-serif' font-size="40.61" fill="#fff" stroke="#fff" stroke-width="0.81" stroke-linejoin="round" vector-effect="non-scaling-stroke">Tropopause</text>
<text transform="translate(150.91 2053.49) scale(1.0934 1)" font-family='"Liberation Sans", sans-serif' font-size="40.61" fill="#fff" stroke="#fff" stroke-width="0.81" stroke-linejoin="round" vector-effect="non-scaling-stroke">Median</text> <text transform="translate(307.29 2053.49) scale(1.0703 1)" font-family='"Liberation Sans", sans-serif' font-size="40.61" fill="#fff" stroke="#fff" stroke-width="0.81" stroke-linejoin="round" vector-effect="non-scaling-stroke">Tropopause</text>
<text transform="translate(151.99 2112.89) scale(1.0755 1)" font-family='"Liberation Sans", sans-serif' font-size="40.61" fill="#fff" stroke="#fff" stroke-width="0.81" stroke-linejoin="round" vector-effect="non-scaling-stroke">Tropopause</text> <text transform="translate(394.03 2112.89) scale(1.0564 1)" font-family='"Liberation Sans", sans-serif' font-size="40.61" fill="#fff" stroke="#fff" stroke-width="0.81" stroke-linejoin="round" vector-effect="non-scaling-stroke">Range</text>
<g id="footer"><text transform="translate(3268.16 2038.56) scale(0.9414 1)" font-family='"Liberation Sans", sans-serif' font-size="33.54" fill="#8c8c8c" stroke="#8c8c8c" stroke-width="0.67" stroke-linejoin="round" vector-effect="non-scaling-stroke">SAGE</text> <text transform="translate(3367.17 2038.22) scale(0.7122 1)" font-family='"Liberation Mono", monospace' font-size="33.86" fill="#8c8c8c" stroke="#8c8c8c" stroke-width="1.35" stroke-linejoin="round" vector-effect="non-scaling-stroke">I</text><text transform="translate(3383.27 2038.22) scale(0.7122 1)" font-family='"Liberation Mono", monospace' font-size="33.86" fill="#8c8c8c" stroke="#8c8c8c" stroke-width="1.35" stroke-linejoin="round" vector-effect="non-scaling-stroke">I</text><text transform="translate(3399.14 2038.22) scale(0.7196 1)" font-family='"Liberation Mono", monospace' font-size="33.86" fill="#8c8c8c" stroke="#8c8c8c" stroke-width="1.35" stroke-linejoin="round" vector-effect="non-scaling-stroke">I</text><text transform="translate(3415.88 2042.12) scale(1.4396 1)" font-family='"Liberation Sans", sans-serif' font-size="37.53" fill="#8c8c8c" stroke="#8c8c8c" stroke-width="0.75" stroke-linejoin="round" vector-effect="non-scaling-stroke">/</text><text transform="translate(3432.82 2038.22) scale(0.7565 1)" font-family='"Liberation Mono", monospace' font-size="33.86" fill="#8c8c8c" stroke="#8c8c8c" stroke-width="1.35" stroke-linejoin="round" vector-effect="non-scaling-stroke">I</text><text transform="translate(3449.32 2038.56) scale(0.9072 1)" font-family='"Liberation Sans", sans-serif' font-size="33.54" fill="#8c8c8c" stroke="#8c8c8c" stroke-width="0.67" stroke-linejoin="round" vector-effect="non-scaling-stroke">SS</text> <text transform="translate(3500.81 2038.56) scale(1.0466 1)" font-family='"Liberation Sans", sans-serif' font-size="33.54" fill="#8c8c8c" stroke="#8c8c8c" stroke-width="0.67" stroke-linejoin="round" vector-effect="non-scaling-stroke">Mission</text> <text transform="translate(3628.65 2038.56) scale(1.0545 1)" font-family='"Liberation Sans", sans-serif' font-size="33.54" fill="#8c8c8c" stroke="#8c8c8c" stroke-width="0.67" stroke-linejoin="round" vector-effect="non-scaling-stroke">|</text> <text transform="translate(3646.32 2038.56) scale(1.0068 1)" font-family='"Liberation Sans", sans-serif' font-size="33.54" fill="#8c8c8c" stroke="#8c8c8c" stroke-width="0.67" stroke-linejoin="round" vector-effect="non-scaling-stroke">NASA</text> <text transform="translate(3749.92 2038.56) scale(1.0419 1)" font-family='"Liberation Sans", sans-serif' font-size="33.54" fill="#8c8c8c" stroke="#8c8c8c" stroke-width="0.67" stroke-linejoin="round" vector-effect="non-scaling-stroke">LaRC</text>
<text transform="translate(3311.39 2076.36) scale(1.0904 1)" font-family='"Liberation Sans", sans-serif' font-size="33.54" fill="#8c8c8c" stroke="#8c8c8c" stroke-width="0.67" stroke-linejoin="round" vector-effect="non-scaling-stroke">Preparer:</text> <text transform="translate(3471.33 2076.36) scale(1.1128 1)" font-family='"Liberation Sans", sans-serif' font-size="33.54" fill="#8c8c8c" stroke="#8c8c8c" stroke-width="0.67" stroke-linejoin="round" vector-effect="non-scaling-stroke">Kevin</text> <text transform="translate(3573.1 2076.36) scale(0.9425 1)" font-family='"Liberation Sans", sans-serif' font-size="33.54" fill="#8c8c8c" stroke="#8c8c8c" stroke-width="0.67" stroke-linejoin="round" vector-effect="non-scaling-stroke">R.</text> <text transform="translate(3613.47 2076.36) scale(1.0975 1)" font-family='"Liberation Sans", sans-serif' font-size="33.54" fill="#8c8c8c" stroke="#8c8c8c" stroke-width="0.67" stroke-linejoin="round" vector-effect="non-scaling-stroke">Leavor</text> <text transform="translate(3735.29 2076.36) scale(1.1041 1)" font-family='"Liberation Sans", sans-serif' font-size="33.54" fill="#8c8c8c" stroke="#8c8c8c" stroke-width="0.67" stroke-linejoin="round" vector-effect="non-scaling-stroke">(AMA)</text>
<text transform="translate(3389.41 2113.56) scale(1.0913 1)" font-family='"Liberation Sans", sans-serif' font-size="33.54" fill="#8c8c8c" stroke="#8c8c8c" stroke-width="0.67" stroke-linejoin="round" vector-effect="non-scaling-stroke">Generated</text> <text transform="translate(3571.76 2113.56) scale(0.9999 1)" font-family='"Liberation Sans", sans-serif' font-size="33.54" fill="#8c8c8c" stroke="#8c8c8c" stroke-width="0.67" stroke-linejoin="round" vector-effect="non-scaling-stroke">2025-07-17</text> <text transform="translate(3754.64 2113.56) scale(1.0087 1)" font-family='"Liberation Sans", sans-serif' font-size="33.54" fill="#8c8c8c" stroke="#8c8c8c" stroke-width="0.67" stroke-linejoin="round" vector-effect="non-scaling-stroke">22:25</text>
<text transform="translate(3533.08 2150.36) scale(1.0918 1)" font-family='"Liberation Sans", sans-serif' font-size="33.54" fill="#8c8c8c" stroke="#8c8c8c" stroke-width="0.67" stroke-linejoin="round" vector-effect="non-scaling-stroke">Data</text> <text transform="translate(3623.3 2150.36) scale(1.0609 1)" font-family='"Liberation Sans", sans-serif' font-size="33.54" fill="#8c8c8c" stroke="#8c8c8c" stroke-width="0.67" stroke-linejoin="round" vector-effect="non-scaling-stroke">Version:</text> <text transform="translate(3761.59 2150.36) scale(1.0417 1)" font-family='"Liberation Sans", sans-serif' font-size="33.54" fill="#8c8c8c" stroke="#8c8c8c" stroke-width="0.67" stroke-linejoin="round" vector-effect="non-scaling-stroke">6.0.0</text></g>
<g id="logo">
<path d="M3494.3 223.5V55.9A38 38 0 0 1 3532.3 17.9H3792.3A38 38 0 0 1 3830.3 55.9V223.5A168 168 0 0 1 3494.3 223.5Z" fill="#e5584a"/>
<path d="M3500.3 223.5V55.9A32 32 0 0 1 3532.3 23.9H3792.3A32 32 0 0 1 3824.3 55.9V223.5A162 162 0 0 1 3500.3 223.5Z" fill="#0d4d86"/>
<circle cx="3662.5" cy="220.6" r="133.7" fill="#0d4d86" stroke="#c9ccd9" stroke-width="15.6"/>
<clipPath id="ringclip"><circle cx="3662.5" cy="220.6" r="126"/></clipPath>
<g clip-path="url(#ringclip)">
<circle cx="3286.19" cy="532.05" r="501.47" fill="#1f72ae"/>
<circle cx="3286.19" cy="532.05" r="489.47" fill="#0d4d86" stroke="#e8eef5" stroke-width="1.2"/>
<clipPath id="earthclip"><circle cx="3286.19" cy="532.05" r="488.97"/></clipPath>
<g clip-path="url(#earthclip)">
<polygon points="3574.91,129.76 3602.52,154.61 3619.09,165.65 3635.65,182.22 3649.46,198.79 3663.26,220.87 3666.58,237.44 3661.88,248.48 3670.17,263.67 3663.26,269.19 3649.46,265.05 3642.56,276.09 3641.73,289.9 3652.22,303.7 3668.79,309.22 3685.35,314.74 3699.16,313.36 3696.39,320.27 3674.31,317.5 3646.7,313.36 3624.61,299.56 3608.05,287.13 3602.52,276.09 3574.91,248.48" fill="#5ea56d"/>
<polygon points="3620.47,204.31 3630.13,200.17 3638.42,207.07 3646.7,204.31 3649.46,212.59 3641.18,220.87 3632.89,218.11 3627.37,212.59" fill="#0d4d86"/>
<polygon points="3635.65,230.54 3646.7,227.77 3653.6,234.68 3646.7,240.2 3638.42,237.44" fill="#0d4d86"/>
<polygon points="3694.19,342.35 3695.84,309.22 3704.68,299.56 3718.48,296.8 3743.33,325.79 3743.33,347.87" fill="#5ea56d"/>
</g>
<circle cx="3637.2" cy="144.3" r="23.9" fill="#f4f5f8"/>
<path d="M3626 130q6-6 12-2q-2 5 3 6q7-5 12 1q2 8-4 12q-5 2-7-3q-6 4-11 0q-2-5 2-7q-6 0-7-7z" fill="#c3c6d1"/>
<path d="M3617 150a23.9 23.9 0 0 0 30 16a28 28 0 0 1-30-16z" fill="#c3c6d1"/>
<circle cx="3735.3" cy="280.9" r="23.3" fill="#fde0a0"/>
<path d="M3722.5 261.4a23.3 23.3 0 0 0 4 41.2a40 40 0 0 1-4-41.2z" fill="#c9ccd9"/>
<path d="M3715.7 191.8L3644.9 166.7M3715.7 191.8L3656.1 159.2M3715.7 191.8L3670.1 227.3M3715.7 191.8L3674.7 233.8M3715.7 191.8L3723.2 258.9M3715.7 191.8L3734.4 257.1" stroke="#fff" stroke-width="1" fill="none"/>
<path d="M3693.4 107.3L3694.84 114.86L3702.4 116.3L3694.84 117.74L3693.4 125.3L3691.96 117.74L3684.4 116.3L3691.96 114.86Z" fill="#fde9b0"/>
<path d="M3680 122L3680.88 126.62L3685.5 127.5L3680.88 128.38L3680 133L3679.12 128.38L3674.5 127.5L3679.12 126.62Z" fill="#fff"/>
<path d="M3703.6 126.8L3704.32 130.58L3708.1 131.3L3704.32 132.02L3703.6 135.8L3702.88 132.02L3699.1 131.3L3702.88 130.58Z" fill="#fff"/>
<g transform="translate(3728.3 179.7) rotate(44)" fill="#ccced6">
<rect x="-26.7" y="-19" width="2" height="38"/>
<rect x="-23.9" y="-19" width="2" height="38"/>
<rect x="-21.1" y="-19" width="2" height="38"/>
<rect x="-18.3" y="-19" width="2" height="38"/>
<rect x="-15.5" y="-19" width="2" height="38"/>
<rect x="13.5" y="-19" width="2" height="38"/>
<rect x="16.3" y="-19" width="2" height="38"/>
<rect x="19.1" y="-19" width="2" height="38"/>
<rect x="21.9" y="-19" width="2" height="38"/>
<rect x="24.7" y="-19" width="2" height="38"/>
<rect x="-24" y="-1.1" width="48" height="2.2"/>
<path d="M-9 -9V7M-3 -11V9M3 -9V8M9 -6V6M-11 -5H11M-10 4H10" stroke="#e4e6ec" stroke-width="1.4" fill="none"/>
</g>
</g>
<g transform="translate(3490 80) scale(0.18639)">
<polygon points="470,560 400,400 330,380 240,460 170,520 150,620 120,760 70,840 78,885 200,810 262,720 300,650 330,720 300,800 262,860 300,960 350,1060 400,1150 470,1240 560,1310 632,1362 632,1000 612,800 602,760 632,640 642,600 600,588 540,600" fill="#d64b40"/>
<path d="M150 640L110 800L75 870L200 805L262 720L240 640L190 700Z" fill="#8c1f1d"/>
<path d="M330 730L300 800L265 862L300 960L350 1060L400 1150L420 1100L380 980L360 860Z" fill="#8c1f1d"/>
<path d="M470 820L500 1000L540 1200L560 1300L632 1360L632 1240L600 1100L560 900L520 800Z" fill="#a22a26"/>
<path d="M300 400L380 420L440 520L470 580L380 600L330 520Z" fill="#ee6957"/>
<path d="M420 800L440 1000L470 1150L500 1240L520 1150L480 950L460 800Z" fill="#ee6957"/>
<path d="M345 680L600 740L605 790L350 720Z" fill="#7a3a20"/>
<path d="M520 735L565 720L605 740L608 790L565 815L515 790Z" fill="#5a2414" stroke="#d9a05a" stroke-width="5"/>
<path d="M590 470L680 490L660 560L600 540Z" fill="#7a2a1c"/>
<path d="M635 520L685 530L680 590L640 605L625 570Z" fill="#f0c08c"/>
<path d="M375 350L420 300L500 268L570 258L620 290L632 335L600 320L540 300L490 320L480 380L520 400L580 410L600 440L592 520L560 570L525 592L490 570L450 500L420 430Z" fill="#fff"/>
<path d="M490 320L545 292L605 312L628 345L612 390L590 415L560 400L520 395L495 370Z" fill="#f0c08c"/>
<path d="M540 405L600 418L598 470L570 440Z" fill="#fff"/>
<path d="M555 350L600 360" stroke="#5a3a20" stroke-width="6" fill="none"/>
<path d="M240 228L262 420L285 600L310 780L345 960L385 1150" stroke="#8a4a1a" stroke-width="26" fill="none" stroke-linecap="round" stroke-linejoin="round"/>
<path d="M240 228L262 420L285 600L310 780L345 960L385 1150" stroke="#d9913f" stroke-width="12" fill="none" stroke-linecap="round" stroke-linejoin="round"/>
<circle cx="228" cy="182" r="56" fill="#d3d6e0" stroke="#fff" stroke-width="8"/>
<path d="M210 520L280 505L310 560L300 610L250 625L215 580Z" fill="#f0c08c"/>
</g>
</g>

<g id="logo-text">
<text transform="translate(3526.24 59.4) scale(0.9565 1)" font-family='"Liberation Serif", serif' font-size="44.39" font-weight="bold" fill="#fff">SAGE III</text> <text transform="translate(3710.02 59.4) scale(0.8344 1)" font-family='"Liberation Serif", serif' font-size="44.39" font-weight="bold" fill="#fff">•</text> <text transform="translate(3731.09 59.4) scale(0.9554 1)" font-family='"Liberation Serif", serif' font-size="44.39" font-weight="bold" fill="#fff">ISS</text>
<text transform="translate(3527.69 72.21) scale(0.9332 1)" font-family='"Liberation Sans", sans-serif' font-size="9.34" fill="#fff" stroke="#fff" stroke-width="0.19" stroke-linejoin="round" vector-effect="non-scaling-stroke">Stratospheric Aerosol and Gas Experiment III</text>
<text transform="translate(3735.58 71.7) scale(0.9482 1)" font-family='"Liberation Sans", sans-serif' font-size="10.47" fill="#fff" stroke="#fff" stroke-width="0.21" stroke-linejoin="round" vector-effect="non-scaling-stroke">International</text>
<text transform="translate(3732.75 82.7) scale(0.9324 1)" font-family='"Liberation Sans", sans-serif' font-size="10.47" fill="#fff" stroke="#fff" stroke-width="0.21" stroke-linejoin="round" vector-effect="non-scaling-stroke">Space Station</text>
<path id="logoarc" d="M3504.5 220.6A158 158 0 0 0 3820.5 220.6" fill="none"/>
<text font-family='"Liberation Sans", sans-serif' font-size="15.5" font-weight="bold" fill="#fff" textLength="444" lengthAdjust="spacingAndGlyphs"><textPath href="#logoarc" startOffset="38">BALL • NASA LANGLEY RESEARCH CENTER • TAS-I • ESA</textPath></text>
</g>
</svg>
</body></html>
